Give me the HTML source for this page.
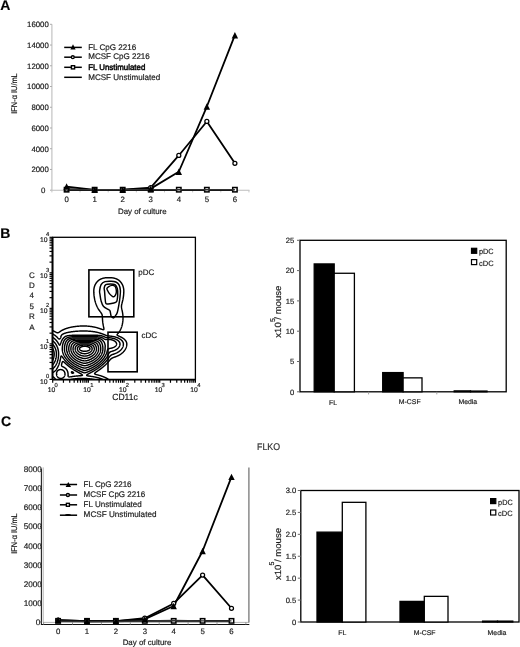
<!DOCTYPE html>
<html><head><meta charset="utf-8"><style>
html,body{margin:0;padding:0;background:#fff;width:520px;height:647px;overflow:hidden}
svg{display:block;filter:grayscale(1)}
text{font-family:"Liberation Sans", sans-serif;stroke:#1a1a1a;stroke-width:0.18px;text-rendering:geometricPrecision}
</style></head><body>
<svg width="520" height="647" viewBox="0 0 520 647">
<text x="0.20" y="10.20" font-size="14" text-anchor="start" font-weight="bold" fill="#000" >A</text>
<line x1="51.90" y1="24.30" x2="51.90" y2="190.20" stroke="#bdbdbd" stroke-width="1.1"/>
<line x1="51.90" y1="190.20" x2="249.50" y2="190.20" stroke="#bdbdbd" stroke-width="1.1"/>
<line x1="50.00" y1="190.20" x2="51.90" y2="190.20" stroke="#aaa" stroke-width="1.0"/>
<text x="45.30" y="193.10" font-size="7.9" text-anchor="end" font-weight="normal" fill="#1a1a1a" >0</text>
<line x1="50.00" y1="169.46" x2="51.90" y2="169.46" stroke="#aaa" stroke-width="1.0"/>
<text x="48.80" y="172.36" font-size="7.8" text-anchor="end" font-weight="normal" fill="#1a1a1a" >2000</text>
<line x1="50.00" y1="148.72" x2="51.90" y2="148.72" stroke="#aaa" stroke-width="1.0"/>
<text x="48.80" y="151.62" font-size="7.8" text-anchor="end" font-weight="normal" fill="#1a1a1a" >4000</text>
<line x1="50.00" y1="127.99" x2="51.90" y2="127.99" stroke="#aaa" stroke-width="1.0"/>
<text x="48.80" y="130.89" font-size="7.8" text-anchor="end" font-weight="normal" fill="#1a1a1a" >6000</text>
<line x1="50.00" y1="107.25" x2="51.90" y2="107.25" stroke="#aaa" stroke-width="1.0"/>
<text x="48.80" y="110.15" font-size="7.8" text-anchor="end" font-weight="normal" fill="#1a1a1a" >8000</text>
<line x1="50.00" y1="86.51" x2="51.90" y2="86.51" stroke="#aaa" stroke-width="1.0"/>
<text x="48.80" y="89.41" font-size="7.8" text-anchor="end" font-weight="normal" fill="#1a1a1a" >10000</text>
<line x1="50.00" y1="65.78" x2="51.90" y2="65.78" stroke="#aaa" stroke-width="1.0"/>
<text x="48.80" y="68.68" font-size="7.8" text-anchor="end" font-weight="normal" fill="#1a1a1a" >12000</text>
<line x1="50.00" y1="45.04" x2="51.90" y2="45.04" stroke="#aaa" stroke-width="1.0"/>
<text x="48.80" y="47.94" font-size="7.8" text-anchor="end" font-weight="normal" fill="#1a1a1a" >14000</text>
<line x1="50.00" y1="24.30" x2="51.90" y2="24.30" stroke="#aaa" stroke-width="1.0"/>
<text x="48.80" y="27.20" font-size="7.8" text-anchor="end" font-weight="normal" fill="#1a1a1a" >16000</text>
<line x1="51.90" y1="190.20" x2="51.90" y2="192.40" stroke="#c4c4c4" stroke-width="1.0"/>
<line x1="80.05" y1="190.20" x2="80.05" y2="192.40" stroke="#c4c4c4" stroke-width="1.0"/>
<line x1="108.20" y1="190.20" x2="108.20" y2="192.40" stroke="#c4c4c4" stroke-width="1.0"/>
<line x1="136.35" y1="190.20" x2="136.35" y2="192.40" stroke="#c4c4c4" stroke-width="1.0"/>
<line x1="164.50" y1="190.20" x2="164.50" y2="192.40" stroke="#c4c4c4" stroke-width="1.0"/>
<line x1="192.65" y1="190.20" x2="192.65" y2="192.40" stroke="#c4c4c4" stroke-width="1.0"/>
<line x1="220.80" y1="190.20" x2="220.80" y2="192.40" stroke="#c4c4c4" stroke-width="1.0"/>
<line x1="248.95" y1="190.20" x2="248.95" y2="192.40" stroke="#c4c4c4" stroke-width="1.0"/>
<text x="66.60" y="202.20" font-size="7.8" text-anchor="middle" font-weight="normal" fill="#1a1a1a" >0</text>
<text x="94.65" y="202.20" font-size="7.8" text-anchor="middle" font-weight="normal" fill="#1a1a1a" >1</text>
<text x="122.70" y="202.20" font-size="7.8" text-anchor="middle" font-weight="normal" fill="#1a1a1a" >2</text>
<text x="150.75" y="202.20" font-size="7.8" text-anchor="middle" font-weight="normal" fill="#1a1a1a" >3</text>
<text x="178.80" y="202.20" font-size="7.8" text-anchor="middle" font-weight="normal" fill="#1a1a1a" >4</text>
<text x="206.85" y="202.20" font-size="7.8" text-anchor="middle" font-weight="normal" fill="#1a1a1a" >5</text>
<text x="234.90" y="202.20" font-size="7.8" text-anchor="middle" font-weight="normal" fill="#1a1a1a" >6</text>
<text x="142.30" y="214.00" font-size="7.9" text-anchor="middle" font-weight="normal" fill="#1a1a1a" >Day of culture</text>
<text x="0.00" y="0.00" font-size="8.2" text-anchor="middle" font-weight="normal" fill="#1a1a1a" textLength="40.5" lengthAdjust="spacingAndGlyphs" transform="translate(16.5,93.5) rotate(-90)">IFN-&#945; IU/mL</text>
<polyline points="66.60,190.20 94.65,190.20 122.70,190.20 150.75,190.20 178.80,190.20 206.85,190.20 234.90,190.20" fill="none" stroke="#000" stroke-width="1.7" stroke-linejoin="round"/>
<polyline points="66.60,189.16 94.65,189.99 122.70,189.68 150.75,187.61 178.80,155.46 206.85,121.46 234.90,163.34" fill="none" stroke="#000" stroke-width="1.8" stroke-linejoin="round"/>
<polyline points="66.60,186.57 94.65,189.89 122.70,189.89 150.75,188.64 178.80,171.74 206.85,106.52 234.90,35.19" fill="none" stroke="#000" stroke-width="1.8" stroke-linejoin="round"/>
<rect x="64.40" y="187.50" width="4.4" height="4.4" fill="#fff" stroke="#000" stroke-width="1.5"/>
<rect x="92.45" y="187.50" width="4.4" height="4.4" fill="#fff" stroke="#000" stroke-width="1.5"/>
<rect x="120.50" y="187.50" width="4.4" height="4.4" fill="#fff" stroke="#000" stroke-width="1.5"/>
<rect x="148.55" y="187.50" width="4.4" height="4.4" fill="#fff" stroke="#000" stroke-width="1.5"/>
<rect x="176.60" y="187.50" width="4.4" height="4.4" fill="#fff" stroke="#000" stroke-width="1.5"/>
<rect x="204.65" y="187.50" width="4.4" height="4.4" fill="#fff" stroke="#000" stroke-width="1.5"/>
<rect x="232.70" y="187.50" width="4.4" height="4.4" fill="#fff" stroke="#000" stroke-width="1.5"/>
<polyline points="66.60,189.80 94.65,189.80 122.70,189.80 150.75,189.80 178.80,189.80 206.85,189.80 234.90,189.80" fill="none" stroke="#333" stroke-width="1.4" stroke-linejoin="round"/>
<circle cx="66.60" cy="189.16" r="2.0" fill="#fff" stroke="#000" stroke-width="1.25"/>
<circle cx="94.65" cy="189.99" r="2.0" fill="#fff" stroke="#000" stroke-width="1.25"/>
<circle cx="122.70" cy="189.68" r="2.0" fill="#fff" stroke="#000" stroke-width="1.25"/>
<circle cx="150.75" cy="187.61" r="2.0" fill="#fff" stroke="#000" stroke-width="1.25"/>
<circle cx="178.80" cy="155.46" r="2.0" fill="#fff" stroke="#000" stroke-width="1.25"/>
<circle cx="206.85" cy="121.46" r="2.0" fill="#fff" stroke="#000" stroke-width="1.25"/>
<circle cx="234.90" cy="163.34" r="2.0" fill="#fff" stroke="#000" stroke-width="1.25"/>
<polygon points="63.40,189.77 69.80,189.77 66.60,183.37" fill="#000"/>
<polygon points="91.45,193.09 97.85,193.09 94.65,186.69" fill="#000"/>
<polygon points="119.50,193.09 125.90,193.09 122.70,186.69" fill="#000"/>
<polygon points="147.55,191.84 153.95,191.84 150.75,185.44" fill="#000"/>
<polygon points="175.60,174.94 182.00,174.94 178.80,168.54" fill="#000"/>
<polygon points="203.65,109.72 210.05,109.72 206.85,103.32" fill="#000"/>
<polygon points="231.70,38.39 238.10,38.39 234.90,31.99" fill="#000"/>
<line x1="64.20" y1="47.40" x2="81.80" y2="47.40" stroke="#000" stroke-width="1.5"/>
<polygon points="70.40,49.50 75.60,49.50 73.00,44.30" fill="#000"/>
<text x="88.20" y="49.60" font-size="8.2" text-anchor="start" font-weight="normal" fill="#1a1a1a" textLength="48.0" lengthAdjust="spacingAndGlyphs" >FL CpG 2216</text>
<line x1="64.20" y1="57.20" x2="81.80" y2="57.20" stroke="#000" stroke-width="1.5"/>
<circle cx="72.80" cy="57.20" r="1.45" fill="#fff" stroke="#000" stroke-width="1.35"/>
<text x="88.20" y="59.40" font-size="8.2" text-anchor="start" font-weight="normal" fill="#1a1a1a" textLength="61.6" lengthAdjust="spacingAndGlyphs" >MCSF CpG 2216</text>
<line x1="64.20" y1="67.30" x2="81.80" y2="67.30" stroke="#000" stroke-width="1.5"/>
<rect x="71.40" y="65.70" width="3.2" height="3.2" fill="#fff" stroke="#000" stroke-width="1.4"/>
<text x="88.20" y="69.50" font-size="8.2" text-anchor="start" font-weight="normal" fill="#000" textLength="57.1" lengthAdjust="spacingAndGlyphs" style="stroke:#000;stroke-width:0.45px" >FL Unstimulated</text>
<line x1="64.20" y1="77.30" x2="81.80" y2="77.30" stroke="#000" stroke-width="1.5"/>
<text x="88.20" y="79.50" font-size="8.2" text-anchor="start" font-weight="normal" fill="#1a1a1a" textLength="72.1" lengthAdjust="spacingAndGlyphs" >MCSF Unstimulated</text>
<text x="0.30" y="237.80" font-size="14" text-anchor="start" font-weight="bold" fill="#000" >B</text>
<clipPath id="fc"><rect x="52.7" y="237.3" width="142.70" height="142.10"/></clipPath><g clip-path="url(#fc)" fill="none" stroke="#000" stroke-width="1.45" stroke-linejoin="round"><path d="M86.22,351.20 L86.60,351.14 L87.00,351.06 L87.24,351.00 L87.60,350.90 L87.90,350.80 L88.20,350.68 L88.40,350.60 L88.78,350.40 L89.00,350.27 L89.20,350.13 L89.40,349.96 L89.60,349.76 L89.80,349.48 L89.93,349.20 L90.00,348.80 L89.93,348.40 L89.80,348.12 L89.60,347.84 L89.40,347.64 L89.20,347.47 L89.00,347.33 L88.79,347.20 L88.40,347.00 L88.20,346.91 L87.91,346.80 L87.60,346.69 L87.25,346.60 L87.00,346.54 L86.60,346.46 L86.22,346.40 L86.00,346.37 L85.60,346.33 L85.20,346.31 L84.80,346.30 L84.40,346.31 L84.00,346.32 L83.60,346.36 L83.28,346.40 L83.00,346.44 L82.60,346.51 L82.25,346.60 L82.00,346.66 L81.60,346.80 L81.40,346.87 L81.10,347.00 L80.80,347.15 L80.60,347.26 L80.40,347.40 L80.14,347.60 L79.94,347.80 L79.78,348.00 L79.60,348.32 L79.52,348.60 L79.52,349.00 L79.60,349.28 L79.78,349.60 L79.94,349.80 L80.15,350.00 L80.40,350.20 L80.60,350.33 L80.80,350.45 L81.11,350.60 L81.40,350.72 L81.60,350.80 L82.00,350.93 L82.26,351.00 L82.60,351.08 L83.00,351.16 L83.28,351.20 L83.60,351.24 L84.00,351.27 L84.40,351.29 L84.80,351.30 L85.20,351.29 L85.60,351.27 L86.00,351.23 L86.22,351.20 L86.22,351.20"/><path d="M86.13,353.60 L86.40,353.56 L86.80,353.48 L87.17,353.40 L87.40,353.34 L87.80,353.23 L88.00,353.16 L88.40,353.02 L88.60,352.94 L88.91,352.80 L89.20,352.66 L89.40,352.56 L89.68,352.40 L90.00,352.20 L90.20,352.06 L90.40,351.91 L90.60,351.75 L90.80,351.57 L91.00,351.37 L91.20,351.15 L91.40,350.90 L91.60,350.61 L91.73,350.40 L91.83,350.20 L91.99,349.80 L92.05,349.60 L92.12,349.20 L92.15,348.80 L92.12,348.40 L92.03,348.00 L91.95,347.80 L91.80,347.48 L91.63,347.20 L91.48,347.00 L91.30,346.80 L91.09,346.60 L90.85,346.40 L90.60,346.22 L90.40,346.10 L90.20,345.98 L89.82,345.80 L89.60,345.71 L89.30,345.60 L89.00,345.51 L88.60,345.40 L88.40,345.36 L88.00,345.28 L87.60,345.23 L87.38,345.20 L87.00,345.16 L86.60,345.14 L86.20,345.12 L85.80,345.11 L85.40,345.10 L85.00,345.10 L84.60,345.10 L84.20,345.10 L83.80,345.11 L83.40,345.12 L83.00,345.13 L82.60,345.16 L82.20,345.19 L82.00,345.21 L81.60,345.27 L81.20,345.34 L80.91,345.40 L80.60,345.48 L80.20,345.60 L80.00,345.67 L79.68,345.80 L79.40,345.93 L79.20,346.04 L78.93,346.20 L78.65,346.40 L78.41,346.60 L78.20,346.80 L78.02,347.00 L77.87,347.20 L77.74,347.40 L77.60,347.68 L77.47,348.00 L77.40,348.30 L77.36,348.60 L77.36,349.00 L77.40,349.35 L77.45,349.60 L77.59,350.00 L77.67,350.20 L77.80,350.45 L78.00,350.77 L78.17,351.00 L78.34,351.20 L78.53,351.40 L78.73,351.60 L78.96,351.80 L79.20,351.99 L79.40,352.13 L79.60,352.26 L79.82,352.40 L80.18,352.60 L80.40,352.71 L80.60,352.81 L81.00,352.98 L81.20,353.06 L81.60,353.19 L81.80,353.26 L82.20,353.37 L82.40,353.42 L82.80,353.50 L83.20,353.57 L83.40,353.60 L83.80,353.65 L84.20,353.68 L84.60,353.70 L85.00,353.70 L85.40,353.68 L85.80,353.64 L86.13,353.60 L86.13,353.60"/><path d="M86.07,356.00 L86.40,355.95 L86.80,355.87 L87.14,355.80 L87.40,355.74 L87.80,355.63 L88.00,355.57 L88.40,355.44 L88.60,355.36 L89.00,355.21 L89.20,355.13 L89.48,355.00 L89.80,354.85 L90.00,354.75 L90.27,354.60 L90.60,354.41 L90.80,354.28 L91.00,354.15 L91.22,354.00 L91.49,353.80 L91.75,353.60 L91.98,353.40 L92.20,353.20 L92.40,353.01 L92.60,352.80 L92.78,352.60 L92.94,352.40 L93.10,352.20 L93.24,352.00 L93.40,351.76 L93.60,351.43 L93.72,351.20 L93.81,351.00 L93.98,350.60 L94.05,350.40 L94.16,350.00 L94.20,349.80 L94.26,349.40 L94.30,349.00 L94.30,348.60 L94.26,348.20 L94.20,347.85 L94.14,347.60 L94.01,347.20 L93.93,347.00 L93.80,346.73 L93.61,346.40 L93.48,346.20 L93.32,346.00 L93.15,345.80 L92.96,345.60 L92.73,345.40 L92.48,345.20 L92.20,345.01 L92.00,344.89 L91.80,344.79 L91.40,344.60 L91.20,344.52 L90.85,344.40 L90.60,344.33 L90.20,344.22 L90.00,344.18 L89.60,344.11 L89.20,344.05 L88.80,344.01 L88.60,343.99 L88.20,343.96 L87.80,343.94 L87.40,343.92 L87.00,343.91 L86.60,343.91 L86.20,343.90 L85.80,343.90 L85.40,343.90 L85.00,343.90 L84.60,343.90 L84.20,343.90 L83.80,343.90 L83.40,343.90 L83.00,343.90 L82.60,343.91 L82.20,343.92 L81.80,343.93 L81.40,343.95 L81.00,343.98 L80.77,344.00 L80.40,344.04 L80.00,344.09 L79.60,344.16 L79.40,344.20 L79.00,344.30 L78.65,344.40 L78.40,344.48 L78.10,344.60 L77.80,344.74 L77.60,344.84 L77.32,345.00 L77.02,345.20 L76.80,345.37 L76.60,345.55 L76.40,345.75 L76.20,345.97 L76.02,346.20 L75.89,346.40 L75.77,346.60 L75.60,346.93 L75.49,347.20 L75.40,347.46 L75.31,347.80 L75.24,348.20 L75.20,348.60 L75.20,349.00 L75.24,349.40 L75.30,349.80 L75.39,350.20 L75.45,350.40 L75.60,350.80 L75.69,351.00 L75.80,351.24 L76.00,351.60 L76.12,351.80 L76.26,352.00 L76.40,352.20 L76.60,352.45 L76.80,352.69 L77.00,352.90 L77.20,353.11 L77.40,353.29 L77.60,353.47 L77.80,353.64 L78.01,353.80 L78.28,354.00 L78.57,354.20 L78.80,354.35 L79.00,354.47 L79.23,354.60 L79.60,354.80 L79.80,354.90 L80.02,355.00 L80.40,355.17 L80.60,355.25 L81.00,355.40 L81.20,355.47 L81.60,355.60 L81.80,355.66 L82.20,355.76 L82.40,355.81 L82.80,355.89 L83.20,355.97 L83.43,356.00 L83.80,356.05 L84.20,356.08 L84.60,356.10 L85.00,356.10 L85.40,356.07 L85.80,356.03 L86.07,356.00 L86.07,356.00"/><path d="M85.99,358.40 L86.20,358.37 L86.60,358.30 L87.00,358.22 L87.20,358.17 L87.60,358.07 L87.85,358.00 L88.20,357.89 L88.49,357.80 L88.80,357.69 L89.05,357.60 L89.40,357.46 L89.60,357.38 L90.00,357.20 L90.20,357.11 L90.42,357.00 L90.80,356.80 L91.00,356.69 L91.20,356.58 L91.50,356.40 L91.80,356.21 L92.00,356.08 L92.20,355.94 L92.40,355.80 L92.66,355.60 L92.92,355.40 L93.16,355.20 L93.39,355.00 L93.60,354.80 L93.80,354.61 L94.00,354.41 L94.19,354.20 L94.37,354.00 L94.54,353.80 L94.70,353.60 L94.85,353.40 L95.00,353.19 L95.20,352.89 L95.38,352.60 L95.49,352.40 L95.60,352.19 L95.79,351.80 L95.88,351.60 L96.00,351.28 L96.10,351.00 L96.20,350.66 L96.26,350.40 L96.35,350.00 L96.40,349.63 L96.42,349.40 L96.45,349.00 L96.45,348.60 L96.42,348.20 L96.40,347.96 L96.35,347.60 L96.27,347.20 L96.20,346.95 L96.09,346.60 L96.00,346.35 L95.85,346.00 L95.75,345.80 L95.60,345.53 L95.40,345.22 L95.24,345.00 L95.08,344.80 L94.89,344.60 L94.69,344.40 L94.46,344.20 L94.20,344.01 L94.00,343.87 L93.80,343.75 L93.52,343.60 L93.20,343.45 L93.00,343.37 L92.60,343.23 L92.40,343.17 L92.00,343.07 L91.70,343.00 L91.40,342.95 L91.00,342.88 L90.60,342.84 L90.21,342.80 L90.00,342.78 L89.60,342.76 L89.20,342.74 L88.80,342.73 L88.40,342.72 L88.00,342.71 L87.60,342.71 L87.20,342.70 L86.80,342.70 L86.40,342.70 L86.00,342.70 L85.60,342.70 L85.20,342.70 L84.80,342.70 L84.40,342.70 L84.00,342.70 L83.60,342.70 L83.20,342.70 L82.80,342.70 L82.40,342.70 L82.00,342.70 L81.60,342.71 L81.20,342.71 L80.80,342.72 L80.40,342.74 L80.00,342.75 L79.60,342.78 L79.29,342.80 L79.00,342.83 L78.60,342.87 L78.20,342.93 L77.80,343.00 L77.60,343.04 L77.20,343.14 L76.99,343.20 L76.60,343.33 L76.40,343.41 L76.00,343.59 L75.80,343.70 L75.60,343.81 L75.31,344.00 L75.04,344.20 L74.81,344.40 L74.61,344.60 L74.42,344.80 L74.26,345.00 L74.11,345.20 L73.98,345.40 L73.80,345.70 L73.65,346.00 L73.56,346.20 L73.41,346.60 L73.34,346.80 L73.23,347.20 L73.19,347.40 L73.12,347.80 L73.08,348.20 L73.05,348.60 L73.05,349.00 L73.08,349.40 L73.12,349.80 L73.19,350.20 L73.24,350.40 L73.34,350.80 L73.40,351.00 L73.54,351.40 L73.62,351.60 L73.80,351.99 L73.90,352.20 L74.01,352.40 L74.20,352.73 L74.37,353.00 L74.51,353.20 L74.65,353.40 L74.80,353.60 L75.00,353.84 L75.20,354.08 L75.40,354.30 L75.60,354.51 L75.80,354.71 L76.00,354.90 L76.20,355.08 L76.40,355.25 L76.60,355.41 L76.84,355.60 L77.10,355.80 L77.38,356.00 L77.60,356.15 L77.80,356.27 L78.00,356.40 L78.34,356.60 L78.60,356.75 L78.80,356.85 L79.08,357.00 L79.40,357.15 L79.60,357.25 L79.95,357.40 L80.20,357.50 L80.45,357.60 L80.80,357.73 L81.01,357.80 L81.40,357.93 L81.65,358.00 L82.00,358.10 L82.40,358.19 L82.60,358.24 L83.00,358.32 L83.40,358.38 L83.60,358.41 L84.00,358.46 L84.40,358.49 L84.80,358.50 L85.20,358.48 L85.60,358.45 L85.99,358.40 L85.99,358.40"/><path d="M85.88,360.80 L86.20,360.75 L86.60,360.68 L86.95,360.60 L87.20,360.54 L87.60,360.44 L87.80,360.38 L88.20,360.26 L88.40,360.20 L88.80,360.07 L89.00,359.99 L89.40,359.84 L89.60,359.76 L89.99,359.60 L90.20,359.51 L90.44,359.40 L90.80,359.23 L91.00,359.13 L91.25,359.00 L91.60,358.81 L91.80,358.70 L92.00,358.59 L92.31,358.40 L92.60,358.22 L92.80,358.09 L93.00,357.95 L93.22,357.80 L93.50,357.60 L93.77,357.40 L94.00,357.22 L94.20,357.06 L94.40,356.89 L94.60,356.72 L94.80,356.54 L95.00,356.35 L95.20,356.16 L95.40,355.96 L95.60,355.75 L95.80,355.53 L96.00,355.30 L96.20,355.06 L96.40,354.81 L96.56,354.60 L96.71,354.40 L96.85,354.20 L97.00,353.97 L97.20,353.64 L97.34,353.40 L97.45,353.20 L97.60,352.91 L97.75,352.60 L97.84,352.40 L98.00,352.00 L98.07,351.80 L98.20,351.42 L98.27,351.20 L98.37,350.80 L98.41,350.60 L98.49,350.20 L98.54,349.80 L98.58,349.40 L98.60,349.00 L98.60,348.80 L98.60,348.60 L98.58,348.20 L98.55,347.80 L98.50,347.40 L98.44,347.00 L98.40,346.80 L98.31,346.40 L98.20,346.02 L98.13,345.80 L98.00,345.45 L97.89,345.20 L97.80,344.99 L97.60,344.61 L97.48,344.40 L97.35,344.20 L97.20,343.99 L97.00,343.74 L96.80,343.52 L96.60,343.32 L96.40,343.13 L96.20,342.97 L95.96,342.80 L95.65,342.60 L95.40,342.46 L95.20,342.36 L94.82,342.20 L94.60,342.12 L94.23,342.00 L94.00,341.94 L93.60,341.84 L93.39,341.80 L93.00,341.73 L92.60,341.68 L92.20,341.64 L91.80,341.60 L91.60,341.59 L91.20,341.56 L90.80,341.54 L90.40,341.53 L90.00,341.52 L89.60,341.51 L89.20,341.51 L88.80,341.51 L88.40,341.50 L88.00,341.50 L87.60,341.50 L87.20,341.50 L86.80,341.50 L86.40,341.50 L86.00,341.50 L85.60,341.50 L85.20,341.50 L84.80,341.50 L84.40,341.50 L84.00,341.50 L83.60,341.50 L83.20,341.50 L82.80,341.50 L82.40,341.50 L82.00,341.50 L81.60,341.50 L81.20,341.50 L80.80,341.50 L80.40,341.51 L80.00,341.51 L79.60,341.52 L79.20,341.53 L78.80,341.54 L78.40,341.56 L78.00,341.58 L77.71,341.60 L77.40,341.63 L77.00,341.67 L76.60,341.72 L76.20,341.78 L76.00,341.82 L75.60,341.91 L75.27,342.00 L75.00,342.09 L74.68,342.20 L74.40,342.32 L74.20,342.41 L73.85,342.60 L73.60,342.76 L73.40,342.90 L73.20,343.05 L73.00,343.22 L72.80,343.41 L72.60,343.62 L72.40,343.86 L72.20,344.13 L72.02,344.40 L71.91,344.60 L71.80,344.80 L71.61,345.20 L71.52,345.40 L71.40,345.72 L71.31,346.00 L71.20,346.38 L71.15,346.60 L71.06,347.00 L71.00,347.38 L70.97,347.60 L70.93,348.00 L70.91,348.40 L70.90,348.80 L70.91,349.20 L70.94,349.60 L70.98,350.00 L71.01,350.20 L71.09,350.60 L71.18,351.00 L71.23,351.20 L71.36,351.60 L71.43,351.80 L71.58,352.20 L71.66,352.40 L71.80,352.71 L71.94,353.00 L72.05,353.20 L72.20,353.47 L72.39,353.80 L72.52,354.00 L72.65,354.20 L72.80,354.41 L73.00,354.68 L73.20,354.94 L73.40,355.19 L73.58,355.40 L73.76,355.60 L73.95,355.80 L74.14,356.00 L74.34,356.20 L74.55,356.40 L74.77,356.60 L74.99,356.80 L75.20,356.97 L75.40,357.14 L75.60,357.30 L75.80,357.45 L76.00,357.60 L76.28,357.80 L76.57,358.00 L76.80,358.15 L77.00,358.28 L77.20,358.41 L77.52,358.60 L77.80,358.76 L78.00,358.87 L78.25,359.00 L78.60,359.18 L78.80,359.28 L79.06,359.40 L79.40,359.55 L79.60,359.64 L79.99,359.80 L80.20,359.88 L80.52,360.00 L80.80,360.10 L81.10,360.20 L81.40,360.29 L81.76,360.40 L82.00,360.47 L82.40,360.57 L82.60,360.61 L83.00,360.69 L83.40,360.77 L83.62,360.80 L84.00,360.85 L84.40,360.89 L84.80,360.90 L85.20,360.88 L85.60,360.84 L85.88,360.80 L85.88,360.80"/><path d="M85.75,363.20 L86.00,363.16 L86.40,363.08 L86.79,363.00 L87.00,362.95 L87.40,362.85 L87.60,362.79 L88.00,362.67 L88.24,362.60 L88.60,362.48 L88.83,362.40 L89.20,362.27 L89.40,362.19 L89.80,362.03 L90.00,361.95 L90.34,361.80 L90.60,361.69 L90.80,361.59 L91.20,361.40 L91.40,361.30 L91.60,361.20 L91.98,361.00 L92.20,360.88 L92.40,360.77 L92.69,360.60 L93.00,360.42 L93.20,360.29 L93.40,360.17 L93.66,360.00 L93.96,359.80 L94.20,359.63 L94.40,359.49 L94.60,359.34 L94.80,359.19 L95.05,359.00 L95.30,358.80 L95.54,358.60 L95.78,358.40 L96.00,358.20 L96.20,358.02 L96.40,357.84 L96.60,357.65 L96.80,357.45 L97.00,357.24 L97.20,357.03 L97.40,356.81 L97.59,356.60 L97.76,356.40 L97.92,356.20 L98.08,356.00 L98.23,355.80 L98.40,355.57 L98.60,355.29 L98.80,355.00 L98.92,354.80 L99.05,354.60 L99.20,354.34 L99.39,354.00 L99.50,353.80 L99.60,353.59 L99.78,353.20 L99.87,353.00 L100.00,352.68 L100.11,352.40 L100.20,352.13 L100.30,351.80 L100.40,351.46 L100.47,351.20 L100.55,350.80 L100.60,350.54 L100.65,350.20 L100.70,349.80 L100.73,349.40 L100.75,349.00 L100.75,348.60 L100.74,348.20 L100.71,347.80 L100.68,347.40 L100.63,347.00 L100.60,346.78 L100.54,346.40 L100.45,346.00 L100.40,345.77 L100.30,345.40 L100.20,345.06 L100.11,344.80 L100.00,344.50 L99.88,344.20 L99.78,344.00 L99.60,343.64 L99.46,343.40 L99.34,343.20 L99.20,342.99 L99.00,342.73 L98.80,342.49 L98.60,342.28 L98.40,342.08 L98.20,341.91 L98.00,341.75 L97.78,341.60 L97.46,341.40 L97.20,341.26 L97.00,341.16 L96.61,341.00 L96.40,340.92 L96.00,340.80 L95.80,340.75 L95.40,340.65 L95.13,340.60 L94.80,340.55 L94.40,340.49 L94.00,340.45 L93.60,340.41 L93.40,340.40 L93.00,340.37 L92.60,340.35 L92.20,340.34 L91.80,340.33 L91.40,340.32 L91.00,340.31 L90.60,340.31 L90.20,340.31 L89.80,340.30 L89.40,340.30 L89.00,340.30 L88.60,340.30 L88.20,340.30 L87.80,340.30 L87.40,340.30 L87.00,340.30 L86.60,340.30 L86.20,340.30 L85.80,340.30 L85.40,340.30 L85.00,340.30 L84.60,340.30 L84.20,340.30 L83.80,340.30 L83.40,340.30 L83.00,340.30 L82.60,340.30 L82.20,340.30 L81.80,340.30 L81.40,340.30 L81.00,340.30 L80.60,340.30 L80.20,340.30 L79.80,340.30 L79.40,340.30 L79.00,340.31 L78.60,340.31 L78.20,340.32 L77.80,340.33 L77.40,340.34 L77.00,340.35 L76.60,340.37 L76.20,340.39 L76.00,340.40 L75.60,340.44 L75.20,340.48 L74.80,340.53 L74.40,340.59 L74.20,340.63 L73.80,340.72 L73.50,340.80 L73.20,340.89 L72.89,341.00 L72.60,341.12 L72.40,341.21 L72.04,341.40 L71.80,341.55 L71.60,341.68 L71.40,341.83 L71.19,342.00 L70.98,342.20 L70.78,342.40 L70.60,342.60 L70.40,342.86 L70.20,343.14 L70.04,343.40 L69.92,343.60 L69.80,343.83 L69.62,344.20 L69.54,344.40 L69.40,344.76 L69.32,345.00 L69.20,345.39 L69.14,345.60 L69.05,346.00 L69.00,346.21 L68.93,346.60 L68.87,347.00 L68.82,347.40 L68.80,347.63 L68.77,348.00 L68.76,348.40 L68.75,348.80 L68.76,349.20 L68.78,349.60 L68.80,349.81 L68.85,350.20 L68.91,350.60 L68.99,351.00 L69.03,351.20 L69.14,351.60 L69.20,351.82 L69.32,352.20 L69.40,352.42 L69.55,352.80 L69.63,353.00 L69.80,353.38 L69.90,353.60 L70.00,353.80 L70.20,354.16 L70.33,354.40 L70.45,354.60 L70.60,354.84 L70.80,355.14 L70.98,355.40 L71.12,355.60 L71.27,355.80 L71.42,356.00 L71.60,356.22 L71.80,356.47 L72.00,356.70 L72.20,356.92 L72.40,357.14 L72.60,357.35 L72.80,357.55 L73.00,357.74 L73.20,357.93 L73.40,358.11 L73.60,358.29 L73.80,358.47 L74.00,358.64 L74.20,358.80 L74.45,359.00 L74.71,359.20 L74.98,359.40 L75.20,359.56 L75.40,359.70 L75.60,359.84 L75.84,360.00 L76.15,360.20 L76.40,360.36 L76.60,360.48 L76.81,360.60 L77.16,360.80 L77.40,360.94 L77.60,361.04 L77.90,361.20 L78.20,361.35 L78.40,361.45 L78.71,361.60 L79.00,361.73 L79.20,361.82 L79.60,361.99 L79.80,362.07 L80.13,362.20 L80.40,362.30 L80.67,362.40 L81.00,362.51 L81.27,362.60 L81.60,362.70 L81.93,362.80 L82.20,362.87 L82.60,362.97 L82.80,363.02 L83.20,363.10 L83.60,363.18 L83.80,363.21 L84.20,363.26 L84.60,363.29 L85.00,363.29 L85.40,363.25 L85.75,363.20 L85.75,363.20"/><path d="M49.02,359.80 L49.40,359.62 L49.60,359.50 L49.80,359.36 L50.00,359.20 L50.21,359.00 L50.40,358.80 L50.60,358.56 L50.80,358.28 L50.98,358.00 L51.09,357.80 L51.20,357.60 L51.38,357.20 L51.46,357.00 L51.60,356.61 L51.67,356.40 L51.77,356.00 L51.82,355.80 L51.89,355.40 L51.94,355.00 L51.98,354.60 L52.00,354.20 L52.00,353.80 L51.97,353.40 L51.92,353.00 L51.84,352.60 L51.79,352.40 L51.67,352.00 L51.59,351.80 L51.42,351.40 L51.31,351.20 L51.20,351.00 L51.00,350.69 L50.80,350.43 L50.60,350.20 L50.40,350.00 L50.20,349.82 L50.00,349.67 L49.80,349.53 L49.57,349.40 L49.20,349.23 L49.00,349.16 L48.60,349.06 L48.20,349.01 L47.80,349.01 L47.40,349.10 L47.16,349.20 L46.83,349.40 L46.60,349.58 L46.40,349.77 L46.20,350.00 L46.05,350.20 L45.92,350.40 L45.80,350.60 L45.60,351.00 L45.52,351.20 L45.40,351.51 L45.31,351.80 L45.20,352.20 L45.16,352.40 L45.09,352.80 L45.04,353.20 L45.01,353.60 L45.00,354.00 L45.01,354.40 L45.03,354.80 L45.06,355.20 L45.11,355.60 L45.17,356.00 L45.21,356.20 L45.30,356.60 L45.40,356.99 L45.46,357.20 L45.60,357.60 L45.68,357.80 L45.80,358.08 L45.96,358.40 L46.08,358.60 L46.20,358.80 L46.40,359.08 L46.60,359.31 L46.80,359.50 L47.00,359.66 L47.24,359.80 L47.60,359.95 L48.00,360.00 L48.40,359.97 L48.80,359.88 L49.02,359.80 L49.02,359.80"/><path d="M85.62,365.60 L86.00,365.53 L86.40,365.44 L86.60,365.40 L87.00,365.29 L87.34,365.20 L87.60,365.12 L88.00,365.00 L88.20,364.93 L88.59,364.80 L88.80,364.73 L89.14,364.60 L89.40,364.50 L89.65,364.40 L90.00,364.26 L90.20,364.17 L90.59,364.00 L90.80,363.91 L91.03,363.80 L91.40,363.62 L91.60,363.52 L91.84,363.40 L92.20,363.21 L92.40,363.11 L92.60,363.00 L92.95,362.80 L93.20,362.66 L93.40,362.54 L93.63,362.40 L93.96,362.20 L94.20,362.05 L94.40,361.92 L94.60,361.78 L94.87,361.60 L95.16,361.40 L95.40,361.23 L95.60,361.08 L95.80,360.93 L96.00,360.78 L96.23,360.60 L96.48,360.40 L96.73,360.20 L96.96,360.00 L97.19,359.80 L97.40,359.62 L97.60,359.43 L97.80,359.25 L98.00,359.06 L98.20,358.86 L98.40,358.66 L98.60,358.45 L98.80,358.24 L99.00,358.02 L99.19,357.80 L99.36,357.60 L99.53,357.40 L99.69,357.20 L99.85,357.00 L100.00,356.80 L100.20,356.54 L100.40,356.25 L100.57,356.00 L100.70,355.80 L100.83,355.60 L101.00,355.32 L101.19,355.00 L101.30,354.80 L101.41,354.60 L101.60,354.22 L101.70,354.00 L101.80,353.79 L101.97,353.40 L102.05,353.20 L102.20,352.80 L102.27,352.60 L102.39,352.20 L102.45,352.00 L102.56,351.60 L102.60,351.40 L102.69,351.00 L102.76,350.60 L102.80,350.31 L102.84,350.00 L102.87,349.60 L102.89,349.20 L102.90,348.80 L102.90,348.40 L102.88,348.00 L102.86,347.60 L102.83,347.20 L102.80,346.88 L102.77,346.60 L102.71,346.20 L102.65,345.80 L102.60,345.54 L102.53,345.20 L102.43,344.80 L102.38,344.60 L102.26,344.20 L102.19,344.00 L102.05,343.60 L101.97,343.40 L101.80,343.02 L101.69,342.80 L101.59,342.60 L101.40,342.27 L101.23,342.00 L101.09,341.80 L100.94,341.60 L100.77,341.40 L100.59,341.20 L100.39,341.00 L100.17,340.80 L99.92,340.60 L99.64,340.40 L99.40,340.26 L99.20,340.14 L98.92,340.00 L98.60,339.87 L98.40,339.79 L98.00,339.66 L97.80,339.59 L97.40,339.50 L97.00,339.42 L96.80,339.38 L96.40,339.32 L96.00,339.27 L95.60,339.23 L95.20,339.20 L95.00,339.19 L94.60,339.17 L94.20,339.15 L93.80,339.14 L93.40,339.13 L93.00,339.12 L92.60,339.11 L92.20,339.11 L91.80,339.11 L91.40,339.10 L91.00,339.10 L90.60,339.10 L90.20,339.10 L89.80,339.10 L89.40,339.10 L89.00,339.10 L88.60,339.10 L88.20,339.10 L87.80,339.10 L87.40,339.10 L87.00,339.10 L86.60,339.10 L86.20,339.10 L85.80,339.10 L85.40,339.10 L85.00,339.10 L84.60,339.10 L84.20,339.10 L83.80,339.10 L83.40,339.10 L83.00,339.10 L82.60,339.10 L82.20,339.10 L81.80,339.10 L81.40,339.10 L81.00,339.10 L80.60,339.10 L80.20,339.10 L79.80,339.10 L79.40,339.10 L79.00,339.10 L78.60,339.10 L78.20,339.10 L77.80,339.11 L77.40,339.11 L77.00,339.11 L76.60,339.12 L76.20,339.13 L75.80,339.14 L75.40,339.15 L75.00,339.16 L74.60,339.18 L74.34,339.20 L74.00,339.23 L73.60,339.26 L73.20,339.31 L72.80,339.37 L72.58,339.40 L72.20,339.48 L71.80,339.57 L71.60,339.62 L71.20,339.75 L71.00,339.82 L70.60,339.99 L70.40,340.09 L70.19,340.20 L69.86,340.40 L69.60,340.58 L69.40,340.74 L69.20,340.92 L69.00,341.11 L68.80,341.32 L68.60,341.56 L68.41,341.80 L68.27,342.00 L68.15,342.20 L68.00,342.44 L67.81,342.80 L67.71,343.00 L67.60,343.25 L67.46,343.60 L67.38,343.80 L67.25,344.20 L67.19,344.40 L67.08,344.80 L67.00,345.12 L66.94,345.40 L66.86,345.80 L66.80,346.15 L66.76,346.40 L66.71,346.80 L66.67,347.20 L66.64,347.60 L66.62,348.00 L66.60,348.40 L66.60,348.80 L66.60,348.80 L66.61,349.20 L66.63,349.60 L66.66,350.00 L66.71,350.40 L66.77,350.80 L66.81,351.00 L66.90,351.40 L66.99,351.80 L67.05,352.00 L67.17,352.40 L67.23,352.60 L67.38,353.00 L67.45,353.20 L67.60,353.56 L67.70,353.80 L67.80,354.01 L67.99,354.40 L68.09,354.60 L68.20,354.80 L68.40,355.16 L68.54,355.40 L68.67,355.60 L68.80,355.81 L69.00,356.11 L69.20,356.40 L69.35,356.60 L69.50,356.80 L69.65,357.00 L69.81,357.20 L70.00,357.44 L70.20,357.68 L70.40,357.91 L70.60,358.13 L70.80,358.35 L71.00,358.56 L71.20,358.76 L71.40,358.96 L71.60,359.15 L71.80,359.34 L72.00,359.53 L72.20,359.71 L72.40,359.88 L72.60,360.05 L72.80,360.22 L73.02,360.40 L73.27,360.60 L73.53,360.80 L73.79,361.00 L74.00,361.16 L74.20,361.30 L74.40,361.44 L74.63,361.60 L74.92,361.80 L75.20,361.98 L75.40,362.11 L75.60,362.24 L75.87,362.40 L76.20,362.60 L76.40,362.72 L76.60,362.83 L76.90,363.00 L77.20,363.16 L77.40,363.27 L77.66,363.40 L78.00,363.57 L78.20,363.67 L78.47,363.80 L78.80,363.95 L79.00,364.04 L79.37,364.20 L79.60,364.30 L79.85,364.40 L80.20,364.54 L80.40,364.62 L80.80,364.76 L81.00,364.83 L81.40,364.97 L81.60,365.03 L82.00,365.15 L82.20,365.21 L82.60,365.32 L82.92,365.40 L83.20,365.47 L83.60,365.55 L83.89,365.60 L84.20,365.65 L84.60,365.69 L85.00,365.68 L85.40,365.63 L85.62,365.60 L85.62,365.60"/><path d="M48.89,363.40 L49.20,363.32 L49.54,363.20 L49.80,363.09 L50.00,362.99 L50.33,362.80 L50.60,362.62 L50.80,362.48 L51.00,362.31 L51.20,362.14 L51.40,361.94 L51.60,361.73 L51.80,361.51 L52.00,361.26 L52.19,361.00 L52.33,360.80 L52.46,360.60 L52.60,360.37 L52.80,360.01 L52.91,359.80 L53.01,359.60 L53.19,359.20 L53.27,359.00 L53.40,358.67 L53.49,358.40 L53.60,358.08 L53.68,357.80 L53.79,357.40 L53.84,357.20 L53.92,356.80 L54.00,356.40 L54.03,356.20 L54.09,355.80 L54.13,355.40 L54.17,355.00 L54.19,354.60 L54.20,354.20 L54.20,354.00 L54.20,353.80 L54.18,353.40 L54.15,353.00 L54.11,352.60 L54.05,352.20 L54.00,351.94 L53.93,351.60 L53.83,351.20 L53.77,351.00 L53.64,350.60 L53.57,350.40 L53.41,350.00 L53.32,349.80 L53.20,349.54 L53.03,349.20 L52.91,349.00 L52.79,348.80 L52.60,348.50 L52.40,348.22 L52.23,348.00 L52.06,347.80 L51.88,347.60 L51.68,347.40 L51.46,347.20 L51.23,347.00 L51.00,346.82 L50.80,346.68 L50.60,346.56 L50.33,346.40 L50.00,346.24 L49.80,346.15 L49.40,346.01 L49.20,345.96 L48.80,345.87 L48.40,345.82 L48.00,345.80 L47.60,345.83 L47.20,345.91 L46.91,346.00 L46.60,346.13 L46.40,346.23 L46.12,346.40 L45.85,346.60 L45.61,346.80 L45.40,347.00 L45.21,347.20 L45.03,347.40 L44.88,347.60 L44.73,347.80 L44.59,348.00 L44.40,348.31 L44.24,348.60 L44.13,348.80 L44.00,349.08 L43.86,349.40 L43.78,349.60 L43.64,350.00 L43.57,350.20 L43.45,350.60 L43.40,350.80 L43.30,351.20 L43.22,351.60 L43.18,351.80 L43.12,352.20 L43.07,352.60 L43.04,353.00 L43.01,353.40 L43.00,353.80 L43.00,354.20 L43.01,354.60 L43.03,355.00 L43.05,355.40 L43.09,355.80 L43.14,356.20 L43.19,356.60 L43.22,356.80 L43.29,357.20 L43.37,357.60 L43.42,357.80 L43.52,358.20 L43.60,358.51 L43.69,358.80 L43.80,359.15 L43.89,359.40 L44.00,359.70 L44.12,360.00 L44.21,360.20 L44.40,360.59 L44.51,360.80 L44.62,361.00 L44.80,361.30 L45.00,361.60 L45.15,361.80 L45.30,362.00 L45.48,362.20 L45.67,362.40 L45.88,362.60 L46.12,362.80 L46.40,363.00 L46.60,363.12 L46.80,363.22 L47.20,363.38 L47.40,363.43 L47.80,363.49 L48.20,363.50 L48.60,363.46 L48.89,363.40 L48.89,363.40"/><path d="M85.47,368.00 L85.80,367.93 L86.20,367.84 L86.40,367.79 L86.80,367.68 L87.07,367.60 L87.40,367.50 L87.70,367.40 L88.00,367.30 L88.28,367.20 L88.60,367.08 L88.82,367.00 L89.20,366.85 L89.40,366.77 L89.80,366.61 L90.00,366.52 L90.28,366.40 L90.60,366.26 L90.80,366.17 L91.15,366.00 L91.40,365.88 L91.60,365.78 L91.96,365.60 L92.20,365.48 L92.40,365.37 L92.72,365.20 L93.00,365.05 L93.20,364.94 L93.44,364.80 L93.78,364.60 L94.00,364.47 L94.20,364.35 L94.44,364.20 L94.76,364.00 L95.00,363.85 L95.20,363.72 L95.40,363.58 L95.67,363.40 L95.96,363.20 L96.20,363.03 L96.40,362.89 L96.60,362.74 L96.80,362.59 L97.05,362.40 L97.31,362.20 L97.56,362.00 L97.80,361.81 L98.00,361.64 L98.20,361.47 L98.40,361.30 L98.60,361.12 L98.80,360.94 L99.00,360.76 L99.20,360.58 L99.40,360.39 L99.60,360.19 L99.80,359.99 L100.00,359.79 L100.20,359.58 L100.40,359.37 L100.60,359.15 L100.80,358.92 L101.00,358.69 L101.20,358.46 L101.40,358.21 L101.57,358.00 L101.72,357.80 L101.87,357.60 L102.02,357.40 L102.20,357.15 L102.40,356.86 L102.57,356.60 L102.70,356.40 L102.83,356.20 L103.00,355.91 L103.18,355.60 L103.29,355.40 L103.40,355.19 L103.60,354.80 L103.70,354.60 L103.80,354.37 L103.96,354.00 L104.05,353.80 L104.20,353.41 L104.28,353.20 L104.40,352.83 L104.47,352.60 L104.59,352.20 L104.64,352.00 L104.74,351.60 L104.80,351.33 L104.86,351.00 L104.93,350.60 L104.98,350.20 L105.01,350.00 L105.04,349.60 L105.07,349.20 L105.09,348.80 L105.10,348.40 L105.11,348.00 L105.11,347.60 L105.13,347.20 L105.15,346.80 L105.20,346.40 L105.25,346.20 L105.22,345.80 L105.19,345.60 L105.12,345.20 L105.04,344.80 L104.99,344.60 L104.90,344.20 L104.80,343.84 L104.73,343.60 L104.60,343.21 L104.53,343.00 L104.40,342.67 L104.29,342.40 L104.20,342.20 L104.00,341.89 L103.80,341.75 L103.60,341.55 L103.40,341.32 L103.20,341.08 L103.00,340.83 L102.80,340.60 L102.62,340.40 L102.43,340.20 L102.22,340.00 L102.00,339.80 L101.80,339.64 L101.60,339.49 L101.40,339.36 L101.15,339.20 L100.80,339.01 L100.60,338.91 L100.35,338.80 L100.00,338.66 L99.80,338.59 L99.40,338.47 L99.13,338.40 L98.80,338.32 L98.40,338.24 L98.14,338.20 L97.80,338.15 L97.40,338.10 L97.00,338.06 L96.60,338.03 L96.22,338.00 L96.00,337.99 L95.60,337.97 L95.20,337.95 L94.80,337.94 L94.40,337.93 L94.00,337.92 L93.60,337.92 L93.20,337.91 L92.80,337.91 L92.40,337.90 L92.00,337.90 L91.60,337.90 L91.20,337.90 L90.80,337.90 L90.40,337.90 L90.00,337.90 L89.60,337.90 L89.20,337.90 L88.80,337.90 L88.40,337.90 L88.00,337.90 L87.60,337.90 L87.20,337.90 L86.80,337.90 L86.40,337.90 L86.00,337.90 L85.60,337.90 L85.20,337.90 L84.80,337.90 L84.40,337.90 L84.00,337.90 L83.60,337.90 L83.20,337.90 L82.80,337.90 L82.40,337.90 L82.00,337.90 L81.60,337.90 L81.20,337.90 L80.80,337.90 L80.40,337.90 L80.00,337.90 L79.60,337.90 L79.20,337.90 L78.80,337.90 L78.40,337.90 L78.00,337.90 L77.60,337.90 L77.20,337.90 L76.80,337.91 L76.40,337.91 L76.00,337.91 L75.60,337.92 L75.20,337.93 L74.80,337.94 L74.40,337.95 L74.00,337.96 L73.60,337.98 L73.27,338.00 L73.00,338.02 L72.60,338.05 L72.20,338.09 L71.80,338.14 L71.40,338.19 L71.20,338.23 L70.80,338.30 L70.40,338.39 L70.20,338.44 L69.80,338.56 L69.60,338.63 L69.20,338.78 L69.00,338.87 L68.72,339.00 L68.40,339.17 L68.20,339.29 L68.00,339.43 L67.76,339.60 L67.51,339.80 L67.29,340.00 L67.09,340.20 L66.90,340.40 L66.73,340.60 L66.57,340.80 L66.40,341.04 L66.20,341.34 L66.05,341.60 L65.94,341.80 L65.80,342.06 L65.64,342.40 L65.55,342.60 L65.40,342.98 L65.32,343.20 L65.20,343.55 L65.12,343.80 L65.01,344.20 L64.96,344.40 L64.87,344.80 L64.80,345.11 L64.74,345.40 L64.68,345.80 L64.62,346.20 L64.59,346.40 L64.55,346.80 L64.51,347.20 L64.49,347.60 L64.47,348.00 L64.45,348.40 L64.45,348.80 L64.46,349.20 L64.48,349.60 L64.51,350.00 L64.55,350.40 L64.60,350.74 L64.64,351.00 L64.72,351.40 L64.80,351.76 L64.86,352.00 L64.97,352.40 L65.03,352.60 L65.16,353.00 L65.23,353.20 L65.37,353.60 L65.45,353.80 L65.60,354.15 L65.71,354.40 L65.81,354.60 L66.00,355.00 L66.10,355.20 L66.21,355.40 L66.40,355.74 L66.55,356.00 L66.67,356.20 L66.80,356.40 L67.00,356.71 L67.20,357.00 L67.34,357.20 L67.48,357.40 L67.63,357.60 L67.80,357.83 L68.00,358.09 L68.20,358.33 L68.40,358.58 L68.59,358.80 L68.77,359.00 L68.95,359.20 L69.13,359.40 L69.32,359.60 L69.51,359.80 L69.71,360.00 L69.91,360.20 L70.11,360.40 L70.33,360.60 L70.54,360.80 L70.76,361.00 L70.99,361.20 L71.20,361.39 L71.40,361.56 L71.60,361.72 L71.80,361.89 L72.00,362.05 L72.20,362.21 L72.45,362.40 L72.71,362.60 L72.98,362.80 L73.20,362.96 L73.40,363.10 L73.60,363.24 L73.83,363.40 L74.12,363.60 L74.40,363.78 L74.60,363.91 L74.80,364.04 L75.06,364.20 L75.38,364.40 L75.60,364.53 L75.80,364.65 L76.06,364.80 L76.40,364.99 L76.60,365.10 L76.80,365.21 L77.15,365.40 L77.40,365.53 L77.60,365.63 L77.94,365.80 L78.20,365.93 L78.40,366.02 L78.78,366.20 L79.00,366.30 L79.22,366.40 L79.60,366.57 L79.80,366.65 L80.17,366.80 L80.40,366.89 L80.68,367.00 L81.00,367.12 L81.22,367.20 L81.60,367.33 L81.80,367.40 L82.20,367.53 L82.43,367.60 L82.80,367.71 L83.15,367.80 L83.40,367.86 L83.80,367.95 L84.03,368.00 L84.40,368.06 L84.80,368.10 L85.20,368.05 L85.47,368.00 L85.47,368.00"/><path d="M48.00,367.00 L48.40,366.99 L48.80,366.94 L49.20,366.87 L49.46,366.80 L49.80,366.70 L50.07,366.60 L50.40,366.46 L50.60,366.36 L50.90,366.20 L51.20,366.02 L51.40,365.89 L51.60,365.75 L51.80,365.59 L52.04,365.40 L52.26,365.20 L52.48,365.00 L52.67,364.80 L52.86,364.60 L53.04,364.40 L53.21,364.20 L53.40,363.96 L53.60,363.69 L53.80,363.40 L53.93,363.20 L54.06,363.00 L54.20,362.77 L54.40,362.42 L54.52,362.20 L54.62,362.00 L54.80,361.63 L54.91,361.40 L55.00,361.19 L55.16,360.80 L55.24,360.60 L55.38,360.20 L55.45,360.00 L55.58,359.60 L55.64,359.40 L55.75,359.00 L55.81,358.80 L55.90,358.40 L55.99,358.00 L56.03,357.80 L56.11,357.40 L56.17,357.00 L56.20,356.80 L56.26,356.40 L56.30,356.00 L56.34,355.60 L56.36,355.20 L56.38,354.80 L56.40,354.40 L56.40,354.01 L56.40,354.00 L56.39,353.60 L56.38,353.20 L56.35,352.80 L56.32,352.40 L56.27,352.00 L56.21,351.60 L56.18,351.40 L56.10,351.00 L56.02,350.60 L55.97,350.40 L55.87,350.00 L55.80,349.77 L55.69,349.40 L55.60,349.15 L55.48,348.80 L55.40,348.60 L55.23,348.20 L55.14,348.00 L55.00,347.70 L54.85,347.40 L54.74,347.20 L54.60,346.95 L54.40,346.62 L54.26,346.40 L54.13,346.20 L53.98,346.00 L53.80,345.75 L53.60,345.50 L53.40,345.27 L53.20,345.05 L53.00,344.84 L52.80,344.64 L52.60,344.46 L52.40,344.29 L52.20,344.13 L52.00,343.98 L51.75,343.80 L51.44,343.60 L51.20,343.46 L51.00,343.35 L50.69,343.20 L50.40,343.08 L50.20,343.00 L49.80,342.86 L49.56,342.80 L49.20,342.72 L48.80,342.65 L48.40,342.61 L48.00,342.60 L47.60,342.62 L47.20,342.67 L46.80,342.77 L46.60,342.83 L46.20,342.98 L46.00,343.08 L45.76,343.20 L45.42,343.40 L45.20,343.55 L45.00,343.70 L44.80,343.86 L44.60,344.04 L44.40,344.22 L44.20,344.43 L44.00,344.64 L43.80,344.88 L43.60,345.13 L43.41,345.40 L43.27,345.60 L43.14,345.80 L43.00,346.02 L42.80,346.37 L42.68,346.60 L42.57,346.80 L42.40,347.16 L42.29,347.40 L42.20,347.62 L42.05,348.00 L41.97,348.20 L41.84,348.60 L41.77,348.80 L41.65,349.20 L41.60,349.40 L41.49,349.80 L41.40,350.20 L41.36,350.40 L41.28,350.80 L41.21,351.20 L41.18,351.40 L41.13,351.80 L41.09,352.20 L41.05,352.60 L41.03,353.00 L41.01,353.40 L41.00,353.80 L41.00,354.20 L41.01,354.60 L41.02,355.00 L41.04,355.40 L41.07,355.80 L41.10,356.20 L41.14,356.60 L41.19,357.00 L41.22,357.20 L41.27,357.60 L41.34,358.00 L41.40,358.33 L41.45,358.60 L41.54,359.00 L41.60,359.27 L41.68,359.60 L41.79,360.00 L41.85,360.20 L41.97,360.60 L42.03,360.80 L42.17,361.20 L42.24,361.40 L42.40,361.80 L42.48,362.00 L42.60,362.27 L42.75,362.60 L42.85,362.80 L43.00,363.10 L43.16,363.40 L43.28,363.60 L43.40,363.80 L43.60,364.11 L43.80,364.40 L43.95,364.60 L44.10,364.80 L44.27,365.00 L44.45,365.20 L44.64,365.40 L44.84,365.60 L45.06,365.80 L45.31,366.00 L45.58,366.20 L45.80,366.34 L46.00,366.46 L46.28,366.60 L46.60,366.74 L46.80,366.81 L47.20,366.91 L47.60,366.98 L48.00,367.00 L48.00,367.00 L48.00,367.00"/><path d="M85.32,370.40 L85.60,370.34 L86.00,370.23 L86.20,370.17 L86.60,370.05 L86.80,369.99 L87.20,369.85 L87.40,369.78 L87.80,369.64 L88.00,369.57 L88.40,369.41 L88.60,369.33 L88.93,369.20 L89.20,369.09 L89.41,369.00 L89.80,368.83 L90.00,368.74 L90.31,368.60 L90.60,368.46 L90.80,368.37 L91.15,368.20 L91.40,368.08 L91.60,367.98 L91.95,367.80 L92.20,367.67 L92.40,367.57 L92.71,367.40 L93.00,367.24 L93.20,367.13 L93.44,367.00 L93.79,366.80 L94.00,366.68 L94.20,366.56 L94.46,366.40 L94.79,366.20 L95.00,366.07 L95.20,365.94 L95.43,365.80 L95.74,365.60 L96.00,365.43 L96.20,365.29 L96.40,365.16 L96.63,365.00 L96.91,364.80 L97.19,364.60 L97.40,364.45 L97.60,364.30 L97.80,364.15 L98.00,364.00 L98.26,363.80 L98.52,363.60 L98.77,363.40 L99.00,363.21 L99.20,363.05 L99.40,362.88 L99.60,362.71 L99.80,362.54 L100.00,362.36 L100.20,362.18 L100.40,362.00 L100.61,361.80 L100.82,361.60 L101.03,361.40 L101.23,361.20 L101.43,361.00 L101.63,360.80 L101.82,360.60 L102.01,360.40 L102.20,360.19 L102.40,359.97 L102.60,359.74 L102.80,359.51 L103.00,359.27 L103.20,359.03 L103.38,358.80 L103.54,358.60 L103.69,358.40 L103.84,358.20 L104.00,357.97 L104.20,357.69 L104.40,357.40 L104.53,357.20 L104.65,357.00 L104.80,356.77 L105.00,356.43 L105.13,356.20 L105.25,356.00 L105.40,355.72 L105.56,355.40 L105.66,355.20 L105.80,354.91 L105.94,354.60 L106.03,354.40 L106.20,354.00 L106.28,353.80 L106.40,353.47 L106.50,353.20 L106.60,352.89 L106.69,352.60 L106.80,352.25 L106.87,352.00 L106.98,351.60 L107.04,351.40 L107.15,351.00 L107.20,350.80 L107.32,350.40 L107.40,350.16 L107.55,349.80 L107.65,349.60 L107.80,349.36 L108.00,349.14 L108.20,348.98 L108.53,348.80 L108.80,348.70 L109.15,348.60 L109.40,348.54 L109.80,348.46 L110.15,348.40 L110.40,348.35 L110.80,348.27 L111.15,348.20 L111.40,348.14 L111.80,348.04 L112.00,347.99 L112.40,347.87 L112.61,347.80 L113.00,347.66 L113.20,347.59 L113.60,347.42 L113.80,347.32 L114.05,347.20 L114.40,347.01 L114.60,346.88 L114.80,346.75 L115.02,346.60 L115.27,346.40 L115.50,346.20 L115.70,346.00 L115.88,345.80 L116.04,345.60 L116.20,345.35 L116.38,345.00 L116.46,344.80 L116.57,344.40 L116.60,344.00 L116.60,344.00 L116.57,343.60 L116.47,343.20 L116.39,343.00 L116.20,342.61 L116.06,342.40 L115.91,342.20 L115.74,342.00 L115.55,341.80 L115.34,341.60 L115.09,341.40 L114.82,341.20 L114.60,341.05 L114.40,340.93 L114.18,340.80 L113.80,340.60 L113.60,340.51 L113.35,340.40 L113.00,340.26 L112.80,340.18 L112.40,340.05 L112.20,339.99 L111.80,339.87 L111.51,339.80 L111.20,339.73 L110.80,339.65 L110.52,339.60 L110.20,339.55 L109.80,339.50 L109.40,339.46 L109.00,339.42 L108.60,339.40 L108.40,339.39 L108.00,339.38 L107.60,339.38 L107.20,339.39 L107.00,339.40 L106.60,339.43 L106.20,339.46 L105.80,339.48 L105.40,339.46 L105.07,339.40 L104.80,339.31 L104.57,339.20 L104.23,339.00 L104.00,338.85 L103.80,338.71 L103.60,338.57 L103.34,338.40 L103.02,338.20 L102.80,338.08 L102.60,337.97 L102.25,337.80 L102.00,337.69 L101.78,337.60 L101.40,337.46 L101.20,337.40 L100.80,337.28 L100.47,337.20 L100.20,337.14 L99.80,337.06 L99.45,337.00 L99.20,336.96 L98.80,336.91 L98.40,336.87 L98.00,336.84 L97.60,336.81 L97.40,336.79 L97.00,336.77 L96.60,336.75 L96.20,336.74 L95.80,336.73 L95.40,336.72 L95.00,336.71 L94.60,336.70 L94.20,336.70 L93.80,336.70 L93.40,336.69 L93.00,336.69 L92.60,336.69 L92.20,336.69 L91.80,336.69 L91.40,336.69 L91.00,336.69 L90.60,336.69 L90.20,336.69 L89.80,336.69 L89.40,336.69 L89.00,336.69 L88.60,336.69 L88.20,336.68 L87.80,336.68 L87.40,336.68 L87.00,336.68 L86.60,336.68 L86.20,336.68 L85.80,336.68 L85.40,336.68 L85.00,336.68 L84.60,336.68 L84.20,336.68 L83.80,336.68 L83.40,336.68 L83.00,336.68 L82.60,336.68 L82.20,336.68 L81.80,336.68 L81.40,336.68 L81.00,336.69 L80.60,336.69 L80.20,336.69 L79.80,336.69 L79.40,336.69 L79.00,336.69 L78.60,336.69 L78.20,336.69 L77.80,336.69 L77.40,336.69 L77.00,336.69 L76.60,336.69 L76.20,336.69 L75.80,336.69 L75.40,336.70 L75.00,336.70 L74.60,336.71 L74.20,336.72 L73.80,336.72 L73.40,336.74 L73.00,336.75 L72.60,336.77 L72.20,336.79 L72.00,336.80 L71.60,336.83 L71.20,336.86 L70.80,336.90 L70.40,336.95 L70.05,337.00 L69.80,337.04 L69.40,337.11 L69.00,337.20 L68.80,337.25 L68.40,337.36 L68.20,337.42 L67.80,337.56 L67.60,337.64 L67.24,337.80 L67.00,337.92 L66.80,338.03 L66.51,338.20 L66.21,338.40 L66.00,338.55 L65.80,338.71 L65.60,338.88 L65.40,339.07 L65.20,339.27 L65.00,339.49 L64.80,339.72 L64.60,339.98 L64.45,340.20 L64.31,340.40 L64.19,340.60 L64.00,340.92 L63.85,341.20 L63.75,341.40 L63.60,341.73 L63.48,342.00 L63.40,342.21 L63.26,342.60 L63.19,342.80 L63.06,343.20 L63.00,343.40 L62.89,343.80 L62.80,344.17 L62.75,344.40 L62.67,344.80 L62.60,345.16 L62.56,345.40 L62.50,345.80 L62.45,346.20 L62.40,346.60 L62.38,346.80 L62.35,347.20 L62.33,347.60 L62.31,348.00 L62.30,348.40 L62.29,348.80 L62.30,349.20 L62.32,349.60 L62.34,350.00 L62.39,350.40 L62.41,350.60 L62.47,351.00 L62.54,351.40 L62.60,351.67 L62.67,352.00 L62.78,352.40 L62.83,352.60 L62.95,353.00 L63.02,353.20 L63.16,353.60 L63.23,353.80 L63.39,354.20 L63.47,354.40 L63.60,354.69 L63.74,355.00 L63.84,355.20 L64.00,355.52 L64.15,355.80 L64.25,356.00 L64.40,356.26 L64.60,356.60 L64.72,356.80 L64.85,357.00 L65.00,357.24 L65.20,357.54 L65.38,357.80 L65.52,358.00 L65.66,358.20 L65.81,358.40 L66.00,358.65 L66.20,358.90 L66.40,359.15 L66.60,359.39 L66.78,359.60 L66.95,359.80 L67.13,360.00 L67.31,360.20 L67.49,360.40 L67.68,360.60 L67.87,360.80 L68.07,361.00 L68.27,361.20 L68.47,361.40 L68.68,361.60 L68.89,361.80 L69.10,362.00 L69.32,362.20 L69.55,362.40 L69.77,362.60 L70.00,362.79 L70.20,362.96 L70.40,363.13 L70.60,363.29 L70.80,363.46 L71.00,363.61 L71.24,363.80 L71.50,364.00 L71.76,364.20 L72.00,364.38 L72.20,364.52 L72.40,364.67 L72.60,364.81 L72.87,365.00 L73.16,365.20 L73.40,365.36 L73.60,365.49 L73.80,365.62 L74.07,365.80 L74.39,366.00 L74.60,366.13 L74.80,366.26 L75.04,366.40 L75.37,366.60 L75.60,366.73 L75.80,366.85 L76.06,367.00 L76.40,367.19 L76.60,367.30 L76.80,367.41 L77.16,367.60 L77.40,367.72 L77.60,367.83 L77.94,368.00 L78.20,368.13 L78.40,368.23 L78.76,368.40 L79.00,368.51 L79.20,368.60 L79.60,368.78 L79.80,368.87 L80.10,369.00 L80.40,369.13 L80.60,369.21 L81.00,369.37 L81.20,369.45 L81.59,369.60 L81.80,369.68 L82.15,369.80 L82.40,369.89 L82.74,370.00 L83.00,370.08 L83.40,370.20 L83.60,370.26 L84.00,370.36 L84.20,370.41 L84.60,370.48 L85.00,370.47 L85.32,370.40 L85.32,370.40"/><path d="M49.16,370.40 L49.40,370.36 L49.80,370.26 L50.01,370.20 L50.40,370.07 L50.60,370.00 L51.00,369.83 L51.20,369.73 L51.45,369.60 L51.80,369.40 L52.00,369.28 L52.20,369.15 L52.42,369.00 L52.69,368.80 L52.94,368.60 L53.18,368.40 L53.40,368.20 L53.60,368.01 L53.80,367.81 L54.00,367.60 L54.19,367.40 L54.36,367.20 L54.53,367.00 L54.69,366.80 L54.85,366.60 L55.00,366.39 L55.20,366.11 L55.40,365.82 L55.54,365.60 L55.66,365.40 L55.80,365.17 L56.00,364.83 L56.12,364.60 L56.23,364.40 L56.40,364.06 L56.53,363.80 L56.62,363.60 L56.80,363.20 L56.88,363.00 L57.00,362.72 L57.12,362.40 L57.20,362.20 L57.34,361.80 L57.41,361.60 L57.54,361.20 L57.60,361.00 L57.72,360.60 L57.80,360.29 L57.87,360.00 L57.97,359.60 L58.02,359.40 L58.10,359.00 L58.18,358.60 L58.22,358.40 L58.28,358.00 L58.35,357.60 L58.40,357.20 L58.42,357.00 L58.47,356.60 L58.51,356.20 L58.54,355.80 L58.56,355.40 L58.58,355.00 L58.60,354.60 L58.60,354.40 L58.60,354.00 L58.60,353.60 L58.60,353.40 L58.58,353.00 L58.56,352.60 L58.53,352.20 L58.49,351.80 L58.44,351.40 L58.40,351.12 L58.35,350.80 L58.28,350.40 L58.20,350.00 L58.16,349.80 L58.07,349.40 L58.00,349.13 L57.91,348.80 L57.80,348.42 L57.73,348.20 L57.60,347.80 L57.53,347.60 L57.40,347.24 L57.30,347.00 L57.20,346.74 L57.05,346.40 L56.96,346.20 L56.80,345.86 L56.67,345.60 L56.57,345.40 L56.40,345.09 L56.23,344.80 L56.11,344.60 L55.99,344.40 L55.80,344.11 L55.60,343.82 L55.44,343.60 L55.29,343.40 L55.13,343.20 L54.97,343.00 L54.80,342.80 L54.60,342.58 L54.40,342.36 L54.20,342.16 L54.00,341.96 L53.80,341.78 L53.60,341.60 L53.35,341.40 L53.10,341.20 L52.82,341.00 L52.60,340.85 L52.40,340.72 L52.20,340.59 L51.85,340.40 L51.60,340.27 L51.40,340.17 L51.01,340.00 L50.80,339.92 L50.46,339.80 L50.20,339.72 L49.80,339.61 L49.60,339.57 L49.20,339.49 L48.80,339.44 L48.40,339.41 L48.00,339.40 L48.00,339.40 L47.60,339.41 L47.20,339.46 L46.80,339.53 L46.52,339.60 L46.20,339.69 L45.91,339.80 L45.60,339.93 L45.40,340.02 L45.06,340.20 L44.80,340.35 L44.60,340.48 L44.40,340.62 L44.16,340.80 L43.90,341.00 L43.67,341.20 L43.45,341.40 L43.25,341.60 L43.06,341.80 L42.87,342.00 L42.70,342.20 L42.54,342.40 L42.38,342.60 L42.20,342.84 L42.00,343.12 L41.81,343.40 L41.68,343.60 L41.56,343.80 L41.40,344.07 L41.22,344.40 L41.11,344.60 L41.00,344.82 L40.82,345.20 L40.73,345.40 L40.60,345.69 L40.47,346.00 L40.39,346.20 L40.24,346.60 L40.17,346.80 L40.04,347.20 L39.97,347.40 L39.85,347.80 L39.80,348.00 L39.69,348.40 L39.60,348.76 L39.54,349.00 L39.46,349.40 L39.40,349.70 L39.34,350.00 L39.28,350.40 L39.22,350.80 L39.19,351.00 L39.14,351.40 L39.10,351.80 L39.07,352.20 L39.04,352.60 L39.02,353.00 L39.01,353.40 L39.00,353.80 L39.00,354.20 L39.01,354.60 L39.02,355.00 L39.03,355.40 L39.05,355.80 L39.08,356.20 L39.11,356.60 L39.15,357.00 L39.19,357.40 L39.22,357.60 L39.27,358.00 L39.33,358.40 L39.39,358.80 L39.42,359.00 L39.50,359.40 L39.57,359.80 L39.62,360.00 L39.70,360.40 L39.80,360.80 L39.85,361.00 L39.96,361.40 L40.01,361.60 L40.13,362.00 L40.20,362.23 L40.32,362.60 L40.40,362.84 L40.53,363.20 L40.60,363.40 L40.76,363.80 L40.84,364.00 L41.00,364.37 L41.10,364.60 L41.20,364.81 L41.39,365.20 L41.49,365.40 L41.60,365.60 L41.80,365.96 L41.94,366.20 L42.06,366.40 L42.20,366.62 L42.40,366.92 L42.60,367.20 L42.75,367.40 L42.90,367.60 L43.07,367.80 L43.24,368.00 L43.42,368.20 L43.61,368.40 L43.81,368.60 L44.02,368.80 L44.25,369.00 L44.50,369.20 L44.77,369.40 L45.00,369.56 L45.20,369.68 L45.41,369.80 L45.80,370.00 L46.00,370.09 L46.29,370.20 L46.60,370.30 L47.00,370.40 L47.20,370.43 L47.60,370.48 L48.00,370.50 L48.40,370.49 L48.80,370.45 L49.16,370.40 L49.16,370.40"/><path d="M87.62,388.80 L88.00,388.77 L88.40,388.74 L88.80,388.70 L89.20,388.67 L89.60,388.63 L89.85,388.60 L90.20,388.56 L90.60,388.51 L91.00,388.46 L91.40,388.41 L91.60,388.38 L92.00,388.33 L92.40,388.26 L92.80,388.20 L93.00,388.17 L93.40,388.10 L93.80,388.02 L94.00,387.98 L94.40,387.90 L94.80,387.81 L95.00,387.77 L95.40,387.67 L95.68,387.60 L96.00,387.51 L96.40,387.40 L96.60,387.34 L97.00,387.21 L97.20,387.14 L97.59,387.00 L97.80,386.92 L98.07,386.80 L98.40,386.65 L98.60,386.55 L98.86,386.40 L99.17,386.20 L99.40,386.02 L99.60,385.84 L99.80,385.60 L99.91,385.40 L100.00,385.00 L99.91,384.60 L99.80,384.40 L99.60,384.16 L99.40,383.98 L99.17,383.80 L98.86,383.60 L98.60,383.45 L98.40,383.35 L98.07,383.20 L97.80,383.08 L97.59,383.00 L97.20,382.86 L97.00,382.79 L96.60,382.66 L96.40,382.60 L96.00,382.49 L95.68,382.40 L95.40,382.33 L95.00,382.23 L94.80,382.19 L94.40,382.10 L94.00,382.02 L93.80,381.98 L93.40,381.90 L93.00,381.83 L92.80,381.80 L92.40,381.74 L92.00,381.67 L91.60,381.62 L91.40,381.59 L91.00,381.54 L90.60,381.49 L90.20,381.44 L89.85,381.40 L89.60,381.37 L89.20,381.33 L88.80,381.30 L88.40,381.26 L88.00,381.23 L87.62,381.20 L87.40,381.18 L87.00,381.16 L86.60,381.13 L86.20,381.11 L85.80,381.09 L85.40,381.07 L85.00,381.06 L84.60,381.04 L84.20,381.03 L83.80,381.02 L83.40,381.01 L83.00,381.01 L82.60,381.00 L82.20,381.00 L82.00,381.00 L81.80,381.00 L81.40,381.00 L81.00,381.01 L80.60,381.02 L80.20,381.03 L79.80,381.04 L79.40,381.05 L79.00,381.07 L78.60,381.09 L78.20,381.11 L77.80,381.14 L77.40,381.17 L77.00,381.20 L76.80,381.22 L76.40,381.25 L76.00,381.29 L75.60,381.33 L75.20,381.38 L75.00,381.40 L74.60,381.45 L74.20,381.51 L73.80,381.57 L73.57,381.60 L73.20,381.66 L72.80,381.73 L72.40,381.80 L72.20,381.84 L71.80,381.92 L71.42,382.00 L71.20,382.05 L70.80,382.14 L70.57,382.20 L70.20,382.30 L69.84,382.40 L69.60,382.47 L69.20,382.60 L69.00,382.67 L68.64,382.80 L68.40,382.89 L68.14,383.00 L67.80,383.16 L67.60,383.26 L67.34,383.40 L67.01,383.60 L66.80,383.75 L66.60,383.92 L66.40,384.11 L66.20,384.37 L66.08,384.60 L66.00,385.00 L66.00,385.00 L66.08,385.40 L66.20,385.63 L66.40,385.89 L66.60,386.08 L66.80,386.25 L67.01,386.40 L67.34,386.60 L67.60,386.74 L67.80,386.84 L68.14,387.00 L68.40,387.11 L68.64,387.20 L69.00,387.33 L69.20,387.40 L69.60,387.53 L69.84,387.60 L70.20,387.70 L70.57,387.80 L70.80,387.86 L71.20,387.95 L71.42,388.00 L71.80,388.08 L72.20,388.16 L72.40,388.20 L72.80,388.27 L73.20,388.34 L73.57,388.40 L73.80,388.43 L74.20,388.49 L74.60,388.55 L75.00,388.60 L75.20,388.62 L75.60,388.67 L76.00,388.71 L76.40,388.75 L76.80,388.78 L77.00,388.80 L77.40,388.83 L77.80,388.86 L78.20,388.89 L78.60,388.91 L79.00,388.93 L79.40,388.95 L79.80,388.96 L80.20,388.97 L80.60,388.98 L81.00,388.99 L81.40,389.00 L81.80,389.00 L82.20,389.00 L82.60,389.00 L83.00,388.99 L83.40,388.99 L83.80,388.98 L84.20,388.97 L84.60,388.96 L85.00,388.94 L85.40,388.93 L85.80,388.91 L86.20,388.89 L86.60,388.87 L87.00,388.84 L87.40,388.82 L87.62,388.80 L87.62,388.80"/><path d="M48.10,374.00 L48.40,373.99 L48.80,373.96 L49.20,373.91 L49.60,373.85 L49.83,373.80 L50.20,373.71 L50.58,373.60 L50.80,373.53 L51.15,373.40 L51.40,373.30 L51.63,373.20 L52.00,373.03 L52.20,372.93 L52.44,372.80 L52.80,372.60 L53.00,372.48 L53.20,372.36 L53.44,372.20 L53.74,372.00 L54.00,371.81 L54.20,371.66 L54.40,371.51 L54.60,371.35 L54.80,371.18 L55.01,371.00 L55.24,370.80 L55.44,370.60 L55.64,370.40 L55.82,370.20 L56.00,369.99 L56.20,369.74 L56.40,369.47 L56.58,369.20 L56.71,369.00 L56.84,368.80 L57.00,368.52 L57.18,368.20 L57.29,368.00 L57.40,367.80 L57.60,367.41 L57.71,367.20 L57.81,367.00 L58.00,366.60 L58.10,366.40 L58.20,366.18 L58.37,365.80 L58.46,365.60 L58.60,365.26 L58.71,365.00 L58.80,364.77 L58.95,364.40 L59.02,364.20 L59.17,363.80 L59.24,363.60 L59.37,363.20 L59.43,363.00 L59.56,362.60 L59.62,362.40 L59.73,362.00 L59.80,361.76 L59.90,361.40 L59.99,361.00 L60.04,360.80 L60.13,360.40 L60.20,360.09 L60.26,359.80 L60.34,359.40 L60.40,359.09 L60.45,358.80 L60.52,358.40 L60.59,358.00 L60.63,357.80 L60.71,357.40 L60.79,357.00 L60.84,356.80 L60.95,356.40 L61.04,356.20 L61.20,355.98 L61.55,356.00 L61.80,356.20 L61.98,356.40 L62.13,356.60 L62.29,356.80 L62.43,357.00 L62.60,357.23 L62.80,357.51 L63.00,357.79 L63.15,358.00 L63.29,358.20 L63.44,358.40 L63.60,358.62 L63.80,358.88 L64.00,359.14 L64.20,359.40 L64.36,359.60 L64.53,359.80 L64.69,360.00 L64.86,360.20 L65.03,360.40 L65.21,360.60 L65.40,360.82 L65.60,361.04 L65.80,361.25 L66.00,361.47 L66.20,361.67 L66.40,361.88 L66.60,362.08 L66.80,362.28 L67.00,362.47 L67.20,362.66 L67.40,362.85 L67.60,363.04 L67.80,363.22 L68.00,363.40 L68.22,363.60 L68.45,363.80 L68.69,364.00 L68.92,364.20 L69.16,364.40 L69.40,364.60 L69.60,364.76 L69.80,364.92 L70.00,365.07 L70.20,365.23 L70.42,365.40 L70.69,365.60 L70.95,365.80 L71.20,365.98 L71.40,366.13 L71.60,366.27 L71.80,366.41 L72.07,366.60 L72.36,366.80 L72.60,366.96 L72.80,367.10 L73.00,367.23 L73.26,367.40 L73.56,367.60 L73.80,367.75 L74.00,367.88 L74.20,368.00 L74.52,368.20 L74.80,368.37 L75.00,368.49 L75.20,368.61 L75.52,368.80 L75.80,368.96 L76.00,369.07 L76.22,369.20 L76.58,369.40 L76.80,369.52 L77.00,369.63 L77.32,369.80 L77.60,369.95 L77.80,370.05 L78.08,370.20 L78.40,370.36 L78.60,370.46 L78.88,370.60 L79.20,370.76 L79.40,370.85 L79.71,371.00 L80.00,371.13 L80.20,371.23 L80.59,371.40 L80.80,371.49 L81.05,371.60 L81.40,371.75 L81.60,371.83 L82.00,372.00 L82.20,372.08 L82.52,372.20 L82.80,372.31 L83.06,372.40 L83.40,372.52 L83.64,372.60 L84.00,372.71 L84.30,372.80 L84.60,372.88 L85.00,372.85 L85.20,372.80 L85.60,372.68 L85.86,372.60 L86.20,372.48 L86.44,372.40 L86.80,372.27 L87.00,372.19 L87.40,372.04 L87.60,371.96 L87.98,371.80 L88.20,371.71 L88.45,371.60 L88.80,371.45 L89.00,371.36 L89.35,371.20 L89.60,371.09 L89.80,370.99 L90.20,370.80 L90.40,370.71 L90.62,370.60 L91.00,370.41 L91.20,370.31 L91.42,370.20 L91.80,370.00 L92.00,369.90 L92.20,369.79 L92.56,369.60 L92.80,369.47 L93.00,369.36 L93.28,369.20 L93.60,369.02 L93.80,368.90 L94.00,368.79 L94.32,368.60 L94.60,368.43 L94.80,368.31 L95.00,368.19 L95.30,368.00 L95.60,367.81 L95.80,367.69 L96.00,367.56 L96.24,367.40 L96.55,367.20 L96.80,367.03 L97.00,366.90 L97.20,366.76 L97.43,366.60 L97.72,366.40 L98.00,366.20 L98.20,366.05 L98.40,365.91 L98.60,365.76 L98.81,365.60 L99.08,365.40 L99.34,365.20 L99.59,365.00 L99.80,364.84 L100.00,364.68 L100.20,364.51 L100.40,364.35 L100.60,364.18 L100.81,364.00 L101.05,363.80 L101.28,363.60 L101.50,363.40 L101.72,363.20 L101.94,363.00 L102.16,362.80 L102.37,362.60 L102.57,362.40 L102.78,362.20 L102.98,362.00 L103.18,361.80 L103.37,361.60 L103.56,361.40 L103.75,361.20 L103.93,361.00 L104.11,360.80 L104.29,360.60 L104.46,360.40 L104.63,360.20 L104.80,360.00 L105.00,359.76 L105.20,359.51 L105.40,359.25 L105.59,359.00 L105.74,358.80 L105.89,358.60 L106.03,358.40 L106.20,358.16 L106.40,357.86 L106.57,357.60 L106.70,357.40 L106.82,357.20 L107.00,356.91 L107.18,356.60 L107.30,356.40 L107.41,356.20 L107.60,355.86 L107.74,355.60 L107.84,355.40 L108.00,355.09 L108.14,354.80 L108.24,354.60 L108.40,354.28 L108.54,354.00 L108.64,353.80 L108.80,353.50 L108.97,353.20 L109.10,353.00 L109.24,352.80 L109.40,352.59 L109.60,352.38 L109.80,352.20 L110.08,352.00 L110.40,351.83 L110.60,351.74 L110.96,351.60 L111.20,351.52 L111.60,351.40 L111.80,351.34 L112.20,351.23 L112.40,351.17 L112.80,351.05 L113.00,350.99 L113.40,350.86 L113.60,350.79 L114.00,350.64 L114.20,350.56 L114.60,350.40 L114.80,350.31 L115.04,350.20 L115.40,350.03 L115.60,349.92 L115.83,349.80 L116.17,349.60 L116.40,349.46 L116.60,349.33 L116.80,349.20 L117.07,349.00 L117.34,348.80 L117.58,348.60 L117.80,348.41 L118.00,348.22 L118.20,348.02 L118.40,347.81 L118.58,347.60 L118.74,347.40 L118.89,347.20 L119.03,347.00 L119.20,346.74 L119.39,346.40 L119.49,346.20 L119.60,345.95 L119.73,345.60 L119.80,345.39 L119.90,345.00 L119.96,344.60 L120.00,344.20 L120.00,344.00 L119.99,343.80 L119.94,343.40 L119.85,343.00 L119.78,342.80 L119.60,342.40 L119.49,342.20 L119.37,342.00 L119.20,341.76 L119.00,341.50 L118.80,341.28 L118.60,341.07 L118.40,340.88 L118.20,340.71 L118.00,340.55 L117.80,340.39 L117.53,340.20 L117.22,340.00 L117.00,339.87 L116.80,339.75 L116.52,339.60 L116.20,339.44 L116.00,339.34 L115.69,339.20 L115.40,339.08 L115.20,339.00 L114.80,338.85 L114.60,338.78 L114.20,338.65 L114.00,338.59 L113.60,338.47 L113.33,338.40 L113.00,338.32 L112.60,338.23 L112.40,338.18 L112.00,338.10 L111.60,338.03 L111.39,338.00 L111.00,337.94 L110.60,337.89 L110.20,337.84 L109.80,337.80 L109.60,337.79 L109.20,337.75 L108.80,337.73 L108.40,337.70 L108.00,337.67 L107.60,337.64 L107.20,337.62 L107.00,337.60 L106.60,337.56 L106.20,337.49 L105.83,337.40 L105.60,337.33 L105.25,337.20 L105.00,337.10 L104.78,337.00 L104.40,336.83 L104.20,336.74 L103.87,336.60 L103.60,336.49 L103.38,336.40 L103.00,336.25 L102.80,336.18 L102.40,336.05 L102.20,335.98 L101.80,335.86 L101.60,335.80 L101.20,335.69 L100.82,335.60 L100.60,335.56 L100.20,335.51 L99.80,335.47 L99.40,335.44 L99.00,335.41 L98.80,335.40 L98.40,335.38 L98.00,335.36 L97.60,335.34 L97.20,335.33 L96.80,335.32 L96.40,335.31 L96.00,335.30 L95.60,335.30 L95.20,335.29 L94.80,335.29 L94.40,335.28 L94.00,335.28 L93.60,335.28 L93.20,335.28 L92.80,335.28 L92.40,335.28 L92.00,335.28 L91.60,335.28 L91.20,335.28 L90.80,335.28 L90.40,335.28 L90.00,335.28 L89.60,335.28 L89.20,335.28 L88.80,335.28 L88.40,335.28 L88.00,335.28 L87.60,335.28 L87.20,335.28 L86.80,335.28 L86.40,335.28 L86.00,335.28 L85.60,335.28 L85.20,335.28 L84.80,335.28 L84.40,335.28 L84.00,335.28 L83.60,335.28 L83.20,335.28 L82.80,335.28 L82.40,335.28 L82.00,335.28 L81.60,335.28 L81.20,335.28 L80.80,335.28 L80.40,335.28 L80.00,335.28 L79.60,335.28 L79.20,335.28 L78.80,335.28 L78.40,335.28 L78.00,335.28 L77.60,335.28 L77.20,335.28 L76.80,335.28 L76.40,335.28 L76.00,335.28 L75.60,335.28 L75.20,335.28 L74.80,335.29 L74.40,335.29 L74.00,335.29 L73.60,335.30 L73.20,335.31 L72.80,335.31 L72.40,335.33 L72.00,335.34 L71.60,335.35 L71.20,335.37 L70.80,335.39 L70.60,335.41 L70.20,335.43 L69.80,335.46 L69.40,335.50 L69.00,335.55 L68.61,335.60 L68.40,335.63 L68.00,335.69 L67.60,335.77 L67.40,335.81 L67.00,335.91 L66.67,336.00 L66.40,336.08 L66.04,336.20 L65.80,336.29 L65.53,336.40 L65.20,336.55 L65.00,336.66 L64.80,336.83 L64.60,337.04 L64.40,337.22 L64.20,337.41 L63.99,337.60 L63.78,337.80 L63.58,338.00 L63.39,338.20 L63.20,338.42 L63.00,338.65 L62.80,338.91 L62.60,339.18 L62.45,339.40 L62.32,339.60 L62.20,339.80 L62.00,340.14 L61.86,340.40 L61.76,340.60 L61.60,340.94 L61.48,341.20 L61.39,341.40 L61.23,341.80 L61.16,342.00 L61.01,342.40 L60.94,342.60 L60.81,343.00 L60.74,343.20 L60.61,343.60 L60.54,343.80 L60.41,344.20 L60.33,344.40 L60.20,344.71 L60.02,345.00 L59.80,345.17 L59.43,345.00 L59.25,344.80 L59.11,344.60 L58.97,344.40 L58.80,344.13 L58.60,343.80 L58.48,343.60 L58.36,343.40 L58.20,343.14 L58.00,342.81 L57.87,342.60 L57.74,342.40 L57.60,342.19 L57.40,341.89 L57.20,341.60 L57.05,341.40 L56.90,341.20 L56.75,341.00 L56.59,340.80 L56.40,340.56 L56.20,340.33 L56.00,340.10 L55.80,339.88 L55.60,339.68 L55.40,339.47 L55.20,339.28 L55.00,339.10 L54.80,338.92 L54.60,338.75 L54.40,338.58 L54.16,338.40 L53.90,338.20 L53.61,338.00 L53.40,337.86 L53.20,337.73 L52.98,337.60 L52.62,337.40 L52.40,337.28 L52.20,337.19 L51.80,337.00 L51.60,336.92 L51.29,336.80 L51.00,336.70 L50.70,336.60 L50.40,336.52 L50.00,336.42 L49.80,336.38 L49.40,336.31 L49.00,336.25 L48.60,336.22 L48.20,336.20 L48.00,336.20 L47.80,336.20 L47.40,336.23 L47.00,336.27 L46.60,336.34 L46.36,336.40 L46.00,336.50 L45.68,336.60 L45.40,336.70 L45.17,336.80 L44.80,336.97 L44.60,337.07 L44.37,337.20 L44.03,337.40 L43.80,337.55 L43.60,337.69 L43.40,337.83 L43.18,338.00 L42.93,338.20 L42.70,338.40 L42.48,338.60 L42.28,338.80 L42.08,339.00 L41.89,339.20 L41.71,339.40 L41.53,339.60 L41.37,339.80 L41.20,340.01 L41.00,340.27 L40.80,340.54 L40.62,340.80 L40.49,341.00 L40.36,341.20 L40.20,341.45 L40.00,341.78 L39.88,342.00 L39.76,342.20 L39.60,342.51 L39.45,342.80 L39.35,343.00 L39.20,343.32 L39.07,343.60 L38.99,343.80 L38.82,344.20 L38.74,344.40 L38.60,344.76 L38.51,345.00 L38.40,345.31 L38.30,345.60 L38.20,345.92 L38.11,346.20 L38.00,346.58 L37.94,346.80 L37.83,347.20 L37.78,347.40 L37.69,347.80 L37.60,348.20 L37.56,348.40 L37.48,348.80 L37.41,349.20 L37.37,349.40 L37.31,349.80 L37.25,350.20 L37.20,350.60 L37.18,350.80 L37.14,351.20 L37.10,351.60 L37.07,352.00 L37.04,352.40 L37.03,352.80 L37.01,353.20 L37.00,353.60 L37.00,354.00 L37.00,354.40 L37.01,354.80 L37.02,355.20 L37.04,355.60 L37.06,356.00 L37.08,356.40 L37.11,356.80 L37.14,357.20 L37.18,357.60 L37.20,357.80 L37.25,358.20 L37.29,358.60 L37.35,359.00 L37.40,359.34 L37.44,359.60 L37.51,360.00 L37.58,360.40 L37.62,360.60 L37.70,361.00 L37.78,361.40 L37.83,361.60 L37.92,362.00 L38.00,362.33 L38.07,362.60 L38.18,363.00 L38.23,363.20 L38.35,363.60 L38.41,363.80 L38.54,364.20 L38.60,364.40 L38.74,364.80 L38.81,365.00 L38.96,365.40 L39.04,365.60 L39.20,366.00 L39.28,366.20 L39.40,366.47 L39.55,366.80 L39.64,367.00 L39.80,367.33 L39.93,367.60 L40.04,367.80 L40.20,368.10 L40.37,368.40 L40.48,368.60 L40.60,368.80 L40.80,369.12 L40.98,369.40 L41.12,369.60 L41.26,369.80 L41.40,370.00 L41.60,370.27 L41.80,370.52 L42.00,370.76 L42.20,370.99 L42.39,371.20 L42.58,371.40 L42.78,371.60 L42.98,371.80 L43.20,372.00 L43.40,372.17 L43.60,372.33 L43.80,372.48 L44.00,372.63 L44.25,372.80 L44.57,373.00 L44.80,373.14 L45.00,373.24 L45.33,373.40 L45.60,373.52 L45.81,373.60 L46.20,373.73 L46.45,373.80 L46.80,373.88 L47.20,373.95 L47.60,373.99 L47.94,374.00 L48.10,374.00 L48.10,374.00"/><path d="M61.23,378.40 L61.60,378.35 L62.00,378.25 L62.20,378.18 L62.60,378.01 L62.80,377.90 L63.00,377.78 L63.26,377.60 L63.50,377.40 L63.71,377.20 L63.90,377.00 L64.06,376.80 L64.21,376.60 L64.40,376.29 L64.55,376.00 L64.64,375.80 L64.79,375.40 L64.85,375.20 L64.93,374.80 L64.99,374.40 L65.00,374.10 L65.00,373.91 L64.98,373.60 L64.93,373.20 L64.84,372.80 L64.78,372.60 L64.63,372.20 L64.54,372.00 L64.40,371.73 L64.20,371.42 L64.04,371.20 L63.87,371.00 L63.68,370.80 L63.47,370.60 L63.22,370.40 L63.00,370.25 L62.80,370.13 L62.56,370.00 L62.20,369.84 L62.00,369.78 L61.60,369.67 L61.20,369.60 L61.00,369.58 L60.60,369.57 L60.22,369.60 L60.00,369.63 L59.60,369.71 L59.29,369.80 L59.00,369.91 L58.78,370.00 L58.40,370.20 L58.20,370.33 L58.00,370.47 L57.80,370.64 L57.60,370.83 L57.40,371.05 L57.20,371.33 L57.04,371.60 L56.94,371.80 L56.80,372.14 L56.72,372.40 L56.62,372.80 L56.59,373.00 L56.54,373.40 L56.53,373.80 L56.54,374.20 L56.59,374.60 L56.63,374.80 L56.73,375.20 L56.80,375.42 L56.95,375.80 L57.04,376.00 L57.20,376.29 L57.40,376.60 L57.55,376.80 L57.72,377.00 L57.91,377.20 L58.13,377.40 L58.38,377.60 L58.60,377.76 L58.80,377.88 L59.03,378.00 L59.40,378.16 L59.60,378.23 L60.00,378.33 L60.40,378.40 L60.60,378.41 L61.00,378.42 L61.23,378.40 L61.23,378.40"/><path d="M87.37,391.40 L87.60,391.38 L88.00,391.35 L88.40,391.31 L88.80,391.28 L89.20,391.24 L89.54,391.20 L89.80,391.17 L90.20,391.12 L90.60,391.07 L91.00,391.02 L91.20,391.00 L91.60,390.94 L92.00,390.88 L92.40,390.82 L92.60,390.78 L93.00,390.72 L93.40,390.64 L93.64,390.60 L94.00,390.53 L94.40,390.45 L94.65,390.40 L95.00,390.32 L95.40,390.23 L95.60,390.19 L96.00,390.09 L96.36,390.00 L96.60,389.94 L97.00,389.83 L97.20,389.77 L97.60,389.65 L97.80,389.59 L98.20,389.47 L98.40,389.40 L98.80,389.26 L99.00,389.19 L99.40,389.04 L99.60,388.96 L99.99,388.80 L100.20,388.71 L100.44,388.60 L100.80,388.43 L101.00,388.33 L101.24,388.20 L101.60,388.00 L101.80,387.88 L102.00,387.75 L102.22,387.60 L102.49,387.40 L102.74,387.20 L102.97,387.00 L103.17,386.80 L103.34,386.60 L103.50,386.40 L103.63,386.20 L103.80,385.88 L103.91,385.60 L103.99,385.20 L103.99,384.80 L103.91,384.40 L103.80,384.12 L103.63,383.80 L103.50,383.60 L103.34,383.40 L103.17,383.20 L102.97,383.00 L102.74,382.80 L102.49,382.60 L102.22,382.40 L102.00,382.25 L101.80,382.12 L101.60,382.00 L101.24,381.80 L101.00,381.67 L100.80,381.57 L100.44,381.40 L100.20,381.29 L99.99,381.20 L99.60,381.04 L99.40,380.96 L99.00,380.81 L98.80,380.74 L98.40,380.60 L98.20,380.53 L97.80,380.41 L97.60,380.35 L97.20,380.23 L97.00,380.17 L96.60,380.06 L96.36,380.00 L96.00,379.91 L95.60,379.81 L95.40,379.77 L95.00,379.68 L94.65,379.60 L94.40,379.55 L94.00,379.47 L93.64,379.40 L93.40,379.36 L93.00,379.28 L92.60,379.22 L92.40,379.18 L92.00,379.12 L91.60,379.06 L91.20,379.00 L91.00,378.98 L90.60,378.93 L90.20,378.88 L89.80,378.83 L89.54,378.80 L89.20,378.76 L88.80,378.72 L88.40,378.68 L88.00,378.65 L87.60,378.62 L87.39,378.60 L87.00,378.57 L86.60,378.54 L86.20,378.52 L85.80,378.50 L85.40,378.48 L85.00,378.46 L84.60,378.44 L84.20,378.43 L83.80,378.42 L83.40,378.41 L83.00,378.41 L82.60,378.40 L82.40,378.40 L82.00,378.40 L81.68,378.40 L81.40,378.40 L81.00,378.41 L80.60,378.42 L80.20,378.43 L79.80,378.44 L79.40,378.46 L79.00,378.47 L78.60,378.50 L78.20,378.52 L77.80,378.55 L77.40,378.58 L77.11,378.60 L76.80,378.63 L76.40,378.66 L76.00,378.70 L75.60,378.75 L75.20,378.79 L75.00,378.82 L74.60,378.87 L74.20,378.92 L73.80,378.98 L73.60,379.01 L73.20,379.07 L72.80,379.14 L72.45,379.20 L72.20,379.25 L71.80,379.32 L71.41,379.40 L71.20,379.44 L70.80,379.53 L70.49,379.60 L70.20,379.67 L69.80,379.77 L69.60,379.82 L69.20,379.92 L68.92,380.00 L68.60,380.09 L68.23,380.20 L68.00,380.27 L67.61,380.40 L67.40,380.47 L67.04,380.60 L66.80,380.69 L66.51,380.80 L66.20,380.92 L66.00,381.01 L65.60,381.19 L65.40,381.28 L65.16,381.40 L64.80,381.59 L64.60,381.71 L64.40,381.83 L64.12,382.00 L63.83,382.20 L63.60,382.38 L63.40,382.54 L63.20,382.71 L63.00,382.91 L62.80,383.12 L62.60,383.37 L62.44,383.60 L62.32,383.80 L62.20,384.04 L62.07,384.40 L62.00,384.80 L61.99,385.00 L62.00,385.20 L62.08,385.60 L62.20,385.93 L62.33,386.20 L62.45,386.40 L62.60,386.61 L62.80,386.85 L63.00,387.06 L63.20,387.25 L63.40,387.43 L63.62,387.60 L63.89,387.80 L64.19,388.00 L64.40,388.13 L64.60,388.25 L64.86,388.40 L65.20,388.58 L65.40,388.68 L65.65,388.80 L66.00,388.96 L66.20,389.05 L66.57,389.20 L66.80,389.29 L67.09,389.40 L67.40,389.51 L67.66,389.60 L68.00,389.71 L68.27,389.80 L68.60,389.90 L68.95,390.00 L69.20,390.07 L69.60,390.18 L69.80,390.23 L70.20,390.33 L70.50,390.40 L70.80,390.47 L71.20,390.56 L71.42,390.60 L71.80,390.68 L72.20,390.75 L72.46,390.80 L72.80,390.86 L73.20,390.93 L73.60,390.99 L73.80,391.02 L74.20,391.08 L74.60,391.13 L75.00,391.18 L75.20,391.21 L75.60,391.25 L76.00,391.30 L76.40,391.34 L76.80,391.37 L77.11,391.40 L77.40,391.42 L77.80,391.45 L78.20,391.48 L78.60,391.50 L79.00,391.53 L79.40,391.54 L79.80,391.56 L80.20,391.57 L80.60,391.58 L81.00,391.59 L81.40,391.60 L81.80,391.60 L82.20,391.60 L82.60,391.60 L83.00,391.59 L83.40,391.59 L83.80,391.58 L84.20,391.57 L84.60,391.55 L85.00,391.54 L85.40,391.52 L85.80,391.50 L86.20,391.48 L86.60,391.45 L87.00,391.43 L87.37,391.40 L87.37,391.40"/><path d="M87.39,394.00 L87.60,393.98 L88.00,393.95 L88.40,393.92 L88.80,393.88 L89.20,393.84 L89.58,393.80 L89.80,393.78 L90.20,393.73 L90.60,393.68 L91.00,393.63 L91.24,393.60 L91.60,393.55 L92.00,393.49 L92.40,393.43 L92.60,393.40 L93.00,393.34 L93.40,393.27 L93.79,393.20 L94.00,393.16 L94.40,393.09 L94.80,393.01 L95.00,392.97 L95.40,392.88 L95.79,392.80 L96.00,392.75 L96.40,392.66 L96.65,392.60 L97.00,392.51 L97.40,392.41 L97.60,392.36 L98.00,392.25 L98.20,392.20 L98.60,392.08 L98.87,392.00 L99.20,391.90 L99.51,391.80 L99.80,391.71 L100.11,391.60 L100.40,391.50 L100.68,391.40 L101.00,391.28 L101.21,391.20 L101.60,391.04 L101.80,390.96 L102.18,390.80 L102.40,390.70 L102.63,390.60 L103.00,390.42 L103.20,390.33 L103.45,390.20 L103.80,390.01 L104.00,389.90 L104.20,389.79 L104.52,389.60 L104.80,389.42 L105.00,389.29 L105.20,389.15 L105.41,389.00 L105.68,388.80 L105.93,388.60 L106.16,388.40 L106.38,388.20 L106.58,388.00 L106.77,387.80 L106.94,387.60 L107.10,387.40 L107.25,387.20 L107.40,386.96 L107.60,386.61 L107.70,386.40 L107.80,386.14 L107.90,385.80 L107.98,385.40 L108.00,385.00 L107.98,384.60 L107.90,384.20 L107.80,383.86 L107.70,383.60 L107.60,383.39 L107.40,383.04 L107.25,382.80 L107.10,382.60 L106.94,382.40 L106.77,382.20 L106.58,382.00 L106.38,381.80 L106.16,381.60 L105.93,381.40 L105.68,381.20 L105.41,381.00 L105.20,380.85 L105.00,380.71 L104.80,380.58 L104.52,380.40 L104.20,380.21 L104.00,380.10 L103.80,379.99 L103.45,379.80 L103.20,379.67 L103.00,379.58 L102.63,379.40 L102.40,379.30 L102.18,379.20 L101.80,379.04 L101.60,378.96 L101.21,378.80 L101.00,378.72 L100.68,378.60 L100.40,378.50 L100.11,378.40 L99.80,378.29 L99.51,378.20 L99.20,378.10 L98.87,378.00 L98.60,377.92 L98.20,377.80 L98.00,377.75 L97.60,377.64 L97.40,377.59 L97.00,377.49 L96.65,377.40 L96.40,377.34 L96.00,377.25 L95.79,377.20 L95.40,377.12 L95.00,377.03 L94.80,376.99 L94.40,376.91 L94.00,376.84 L93.80,376.80 L93.40,376.73 L93.00,376.66 L92.64,376.60 L92.40,376.56 L92.00,376.50 L91.60,376.44 L91.35,376.40 L91.00,376.35 L90.60,376.29 L90.20,376.24 L89.94,376.20 L89.60,376.15 L89.20,376.09 L88.80,376.03 L88.57,376.00 L88.20,375.93 L87.80,375.86 L87.54,375.80 L87.20,375.69 L86.95,375.60 L86.70,375.40 L86.78,375.00 L86.98,374.80 L87.20,374.64 L87.40,374.50 L87.60,374.37 L87.88,374.20 L88.20,374.01 L88.40,373.90 L88.60,373.79 L88.95,373.60 L89.20,373.47 L89.40,373.36 L89.69,373.20 L90.00,373.04 L90.20,372.93 L90.44,372.80 L90.80,372.61 L91.00,372.50 L91.20,372.39 L91.55,372.20 L91.80,372.07 L92.00,371.95 L92.27,371.80 L92.60,371.61 L92.80,371.51 L93.00,371.39 L93.33,371.20 L93.60,371.04 L93.80,370.93 L94.00,370.80 L94.35,370.60 L94.60,370.45 L94.80,370.33 L95.00,370.20 L95.33,370.00 L95.60,369.83 L95.80,369.71 L96.00,369.58 L96.28,369.40 L96.58,369.20 L96.80,369.06 L97.00,368.93 L97.20,368.79 L97.49,368.60 L97.78,368.40 L98.00,368.25 L98.20,368.12 L98.40,367.97 L98.64,367.80 L98.92,367.60 L99.19,367.40 L99.40,367.25 L99.60,367.11 L99.80,366.95 L100.00,366.80 L100.26,366.60 L100.52,366.40 L100.77,366.20 L101.00,366.02 L101.20,365.87 L101.40,365.70 L101.60,365.54 L101.80,365.37 L102.00,365.20 L102.24,365.00 L102.47,364.80 L102.70,364.60 L102.93,364.40 L103.15,364.20 L103.37,364.00 L103.58,363.80 L103.79,363.60 L104.00,363.40 L104.20,363.21 L104.40,363.02 L104.60,362.82 L104.80,362.62 L105.00,362.41 L105.20,362.21 L105.40,362.00 L105.58,361.80 L105.77,361.60 L105.95,361.40 L106.13,361.20 L106.31,361.00 L106.48,360.80 L106.65,360.60 L106.81,360.40 L107.00,360.17 L107.20,359.93 L107.40,359.67 L107.60,359.41 L107.77,359.20 L107.92,359.00 L108.06,358.80 L108.21,358.60 L108.40,358.34 L108.60,358.06 L108.79,357.80 L108.93,357.60 L109.07,357.40 L109.21,357.20 L109.40,356.94 L109.60,356.67 L109.80,356.42 L109.98,356.20 L110.15,356.00 L110.34,355.80 L110.55,355.60 L110.78,355.40 L111.00,355.23 L111.20,355.10 L111.40,354.98 L111.76,354.80 L112.00,354.70 L112.24,354.60 L112.60,354.47 L112.80,354.40 L113.20,354.26 L113.40,354.20 L113.80,354.06 L114.00,354.00 L114.40,353.86 L114.60,353.79 L115.00,353.64 L115.20,353.56 L115.59,353.40 L115.80,353.31 L116.06,353.20 L116.40,353.04 L116.60,352.95 L116.89,352.80 L117.20,352.64 L117.40,352.53 L117.63,352.40 L117.97,352.20 L118.20,352.06 L118.40,351.93 L118.60,351.80 L118.89,351.60 L119.16,351.40 L119.40,351.22 L119.60,351.06 L119.80,350.90 L120.00,350.72 L120.20,350.55 L120.40,350.36 L120.60,350.16 L120.80,349.96 L121.00,349.74 L121.20,349.52 L121.40,349.28 L121.60,349.02 L121.76,348.80 L121.90,348.60 L122.04,348.40 L122.20,348.14 L122.39,347.80 L122.50,347.60 L122.60,347.40 L122.78,347.00 L122.86,346.80 L123.00,346.42 L123.07,346.20 L123.18,345.80 L123.23,345.60 L123.30,345.20 L123.36,344.80 L123.39,344.40 L123.40,344.00 L123.40,344.00 L123.38,343.60 L123.32,343.20 L123.22,342.80 L123.16,342.60 L123.00,342.21 L122.90,342.00 L122.79,341.80 L122.60,341.49 L122.40,341.20 L122.25,341.00 L122.08,340.80 L121.90,340.60 L121.71,340.40 L121.50,340.20 L121.28,340.00 L121.04,339.80 L120.80,339.61 L120.60,339.46 L120.40,339.32 L120.20,339.18 L119.92,339.00 L119.60,338.80 L119.40,338.69 L119.20,338.58 L118.87,338.40 L118.60,338.27 L118.40,338.17 L118.03,338.00 L117.80,337.90 L117.56,337.80 L117.20,337.66 L117.00,337.58 L116.60,337.44 L116.40,337.37 L116.00,337.24 L115.80,337.17 L115.40,337.05 L115.20,337.00 L114.80,336.89 L114.45,336.80 L114.20,336.74 L113.80,336.65 L113.58,336.60 L113.20,336.52 L112.80,336.45 L112.53,336.40 L112.20,336.35 L111.80,336.29 L111.40,336.23 L111.13,336.20 L110.80,336.16 L110.40,336.12 L110.00,336.08 L109.60,336.04 L109.20,336.00 L109.00,335.98 L108.60,335.93 L108.20,335.88 L107.80,335.81 L107.60,335.77 L107.20,335.69 L106.83,335.60 L106.60,335.54 L106.20,335.41 L106.00,335.34 L105.61,335.20 L105.40,335.12 L105.11,335.00 L104.80,334.87 L104.60,334.79 L104.20,334.62 L104.00,334.54 L103.67,334.40 L103.40,334.29 L103.18,334.20 L102.80,334.05 L102.60,333.97 L102.20,333.82 L102.00,333.74 L101.61,333.60 L101.40,333.52 L101.04,333.40 L100.80,333.32 L100.43,333.20 L100.20,333.13 L99.80,333.00 L99.60,332.95 L99.20,332.83 L99.00,332.78 L98.60,332.67 L98.33,332.60 L98.00,332.52 L97.60,332.42 L97.40,332.37 L97.00,332.28 L96.60,332.20 L96.40,332.16 L96.00,332.08 L95.60,332.00 L95.40,331.97 L95.00,331.90 L94.60,331.83 L94.40,331.80 L94.00,331.74 L93.60,331.68 L93.20,331.62 L93.00,331.59 L92.60,331.54 L92.20,331.49 L91.80,331.45 L91.40,331.40 L91.20,331.38 L90.80,331.34 L90.40,331.30 L90.00,331.27 L89.60,331.23 L89.20,331.20 L89.00,331.19 L88.60,331.16 L88.20,331.14 L87.80,331.11 L87.40,331.09 L87.00,331.07 L86.60,331.06 L86.20,331.04 L85.80,331.03 L85.40,331.02 L85.00,331.01 L84.60,331.01 L84.20,331.00 L84.00,331.00 L83.60,331.00 L83.20,331.00 L82.87,331.00 L82.60,331.00 L82.20,331.01 L81.80,331.01 L81.40,331.02 L81.00,331.03 L80.60,331.04 L80.20,331.05 L79.80,331.07 L79.40,331.09 L79.00,331.10 L78.60,331.12 L78.20,331.14 L77.80,331.17 L77.40,331.19 L77.20,331.21 L76.80,331.23 L76.40,331.26 L76.00,331.30 L75.60,331.33 L75.20,331.37 L74.83,331.40 L74.60,331.42 L74.20,331.46 L73.80,331.51 L73.40,331.55 L73.00,331.60 L72.80,331.62 L72.40,331.68 L72.00,331.73 L71.60,331.79 L71.40,331.81 L71.00,331.87 L70.60,331.94 L70.22,332.00 L70.00,332.04 L69.60,332.11 L69.20,332.18 L69.00,332.22 L68.60,332.30 L68.20,332.38 L68.00,332.43 L67.60,332.51 L67.24,332.60 L67.00,332.66 L66.60,332.76 L66.40,332.81 L66.00,332.92 L65.73,333.00 L65.40,333.10 L65.10,333.20 L64.80,333.30 L64.52,333.40 L64.20,333.52 L64.00,333.60 L63.60,333.78 L63.40,333.87 L63.14,334.00 L62.80,334.18 L62.60,334.30 L62.40,334.43 L62.17,334.60 L61.92,334.80 L61.71,335.00 L61.54,335.20 L61.39,335.40 L61.20,335.74 L61.09,336.00 L61.00,336.40 L60.98,336.60 L60.92,337.00 L60.80,337.40 L60.72,337.60 L60.60,337.84 L60.40,338.16 L60.23,338.40 L60.07,338.60 L59.87,338.80 L59.60,338.99 L59.40,339.05 L59.05,339.00 L58.80,338.87 L58.60,338.72 L58.40,338.54 L58.20,338.35 L58.00,338.14 L57.80,337.93 L57.60,337.71 L57.40,337.50 L57.20,337.30 L57.00,337.10 L56.80,336.90 L56.60,336.72 L56.40,336.53 L56.20,336.36 L56.00,336.18 L55.78,336.00 L55.53,335.80 L55.27,335.60 L55.00,335.40 L54.80,335.26 L54.60,335.12 L54.40,334.99 L54.10,334.80 L53.80,334.62 L53.60,334.51 L53.40,334.40 L53.01,334.20 L52.80,334.10 L52.58,334.00 L52.20,333.84 L52.00,333.76 L51.60,333.61 L51.40,333.54 L51.00,333.42 L50.80,333.37 L50.40,333.27 L50.07,333.20 L49.80,333.15 L49.40,333.09 L49.00,333.05 L48.60,333.02 L48.20,333.00 L48.00,333.00 L47.80,333.00 L47.40,333.02 L47.00,333.06 L46.60,333.12 L46.21,333.20 L46.00,333.25 L45.60,333.36 L45.40,333.42 L45.00,333.57 L44.80,333.65 L44.45,333.80 L44.20,333.92 L44.00,334.02 L43.67,334.20 L43.40,334.36 L43.20,334.48 L43.00,334.62 L42.73,334.80 L42.46,335.00 L42.21,335.20 L42.00,335.37 L41.80,335.54 L41.60,335.72 L41.40,335.91 L41.20,336.10 L41.00,336.30 L40.80,336.52 L40.60,336.73 L40.40,336.96 L40.20,337.20 L40.04,337.40 L39.88,337.60 L39.73,337.80 L39.58,338.00 L39.40,338.25 L39.20,338.54 L39.03,338.80 L38.90,339.00 L38.78,339.20 L38.60,339.49 L38.42,339.80 L38.31,340.00 L38.20,340.20 L38.00,340.58 L37.89,340.80 L37.79,341.00 L37.60,341.40 L37.51,341.60 L37.40,341.84 L37.25,342.20 L37.16,342.40 L37.00,342.80 L36.93,343.00 L36.80,343.34 L36.71,343.60 L36.60,343.91 L36.50,344.20 L36.40,344.52 L36.31,344.80 L36.20,345.19 L36.14,345.40 L36.03,345.80 L35.98,346.00 L35.88,346.40 L35.80,346.75 L35.74,347.00 L35.66,347.40 L35.60,347.69 L35.54,348.00 L35.47,348.40 L35.40,348.80 L35.37,349.00 L35.32,349.40 L35.26,349.80 L35.21,350.20 L35.19,350.40 L35.15,350.80 L35.12,351.20 L35.09,351.60 L35.06,352.00 L35.04,352.40 L35.02,352.80 L35.01,353.20 L35.00,353.60 L35.00,354.00 L35.00,354.40 L35.01,354.80 L35.02,355.20 L35.03,355.60 L35.05,356.00 L35.07,356.40 L35.09,356.80 L35.12,357.20 L35.15,357.60 L35.19,358.00 L35.21,358.20 L35.25,358.60 L35.30,359.00 L35.35,359.40 L35.40,359.78 L35.43,360.00 L35.49,360.40 L35.56,360.80 L35.60,361.06 L35.66,361.40 L35.74,361.80 L35.80,362.12 L35.86,362.40 L35.95,362.80 L36.00,363.04 L36.09,363.40 L36.18,363.80 L36.24,364.00 L36.34,364.40 L36.40,364.61 L36.51,365.00 L36.60,365.29 L36.69,365.60 L36.80,365.93 L36.89,366.20 L37.00,366.52 L37.10,366.80 L37.20,367.08 L37.32,367.40 L37.40,367.60 L37.56,368.00 L37.64,368.20 L37.80,368.57 L37.90,368.80 L38.00,369.02 L38.18,369.40 L38.28,369.60 L38.40,369.85 L38.58,370.20 L38.69,370.40 L38.80,370.60 L39.00,370.96 L39.14,371.20 L39.26,371.40 L39.40,371.62 L39.60,371.94 L39.78,372.20 L39.91,372.40 L40.05,372.60 L40.20,372.80 L40.40,373.07 L40.60,373.32 L40.80,373.57 L41.00,373.80 L41.17,374.00 L41.36,374.20 L41.55,374.40 L41.74,374.60 L41.95,374.80 L42.17,375.00 L42.39,375.20 L42.60,375.38 L42.80,375.54 L43.00,375.69 L43.20,375.84 L43.43,376.00 L43.74,376.20 L44.00,376.36 L44.20,376.47 L44.44,376.60 L44.80,376.78 L45.00,376.87 L45.33,377.00 L45.60,377.10 L45.93,377.20 L46.20,377.28 L46.60,377.37 L46.80,377.40 L47.20,377.46 L47.60,377.50 L48.00,377.51 L48.40,377.50 L48.80,377.48 L49.20,377.45 L49.60,377.40 L49.80,377.37 L50.20,377.30 L50.60,377.23 L50.80,377.18 L51.20,377.10 L51.60,377.01 L51.80,376.97 L52.20,376.91 L52.60,376.88 L53.00,376.91 L53.29,377.00 L53.60,377.16 L53.80,377.30 L54.00,377.48 L54.20,377.68 L54.40,377.90 L54.60,378.14 L54.80,378.37 L55.00,378.60 L55.18,378.80 L55.36,379.00 L55.55,379.20 L55.75,379.40 L55.96,379.60 L56.17,379.80 L56.40,380.00 L56.60,380.17 L56.80,380.34 L57.00,380.50 L57.20,380.66 L57.40,380.83 L57.60,381.00 L57.81,381.20 L58.00,381.41 L58.20,381.74 L58.29,382.00 L58.31,382.40 L58.25,382.80 L58.20,383.05 L58.12,383.40 L58.04,383.80 L58.00,384.01 L57.95,384.40 L57.94,384.80 L57.95,385.20 L58.00,385.52 L58.06,385.80 L58.18,386.20 L58.26,386.40 L58.40,386.70 L58.56,387.00 L58.68,387.20 L58.82,387.40 L59.00,387.64 L59.20,387.88 L59.40,388.10 L59.60,388.31 L59.80,388.50 L60.00,388.68 L60.20,388.85 L60.40,389.01 L60.64,389.20 L60.92,389.40 L61.20,389.59 L61.40,389.72 L61.60,389.85 L61.85,390.00 L62.20,390.20 L62.40,390.31 L62.60,390.42 L62.96,390.60 L63.20,390.72 L63.40,390.81 L63.80,391.00 L64.00,391.09 L64.27,391.20 L64.60,391.34 L64.80,391.42 L65.20,391.57 L65.40,391.64 L65.80,391.79 L66.00,391.86 L66.40,391.99 L66.60,392.06 L67.00,392.18 L67.20,392.24 L67.60,392.36 L67.80,392.42 L68.20,392.53 L68.48,392.60 L68.80,392.68 L69.20,392.78 L69.40,392.83 L69.80,392.92 L70.15,393.00 L70.40,393.05 L70.80,393.14 L71.12,393.20 L71.40,393.25 L71.80,393.33 L72.20,393.40 L72.40,393.43 L72.80,393.50 L73.20,393.56 L73.48,393.60 L73.80,393.65 L74.20,393.70 L74.60,393.75 L75.00,393.80 L75.20,393.82 L75.60,393.87 L76.00,393.91 L76.40,393.95 L76.80,393.98 L77.02,394.00 L77.40,394.03 L77.80,394.06 L78.20,394.08 L78.60,394.11 L79.00,394.13 L79.40,394.15 L79.80,394.16 L80.20,394.17 L80.60,394.18 L81.00,394.19 L81.40,394.20 L81.80,394.20 L82.20,394.20 L82.60,394.20 L83.00,394.19 L83.40,394.19 L83.80,394.18 L84.20,394.17 L84.60,394.15 L85.00,394.14 L85.40,394.12 L85.80,394.10 L86.20,394.08 L86.60,394.05 L87.00,394.03 L87.39,394.00 L87.39,394.00"/><path d="M70.60,376.81 L70.20,376.86 L69.80,376.89 L69.40,376.91 L69.00,376.89 L68.64,376.80 L68.40,376.66 L68.21,376.40 L68.14,376.20 L68.08,375.80 L68.06,375.40 L68.06,375.00 L68.07,374.60 L68.06,374.20 L68.04,373.80 L68.01,373.40 L67.98,373.20 L67.92,372.80 L67.84,372.40 L67.79,372.20 L67.68,371.80 L67.60,371.55 L67.47,371.20 L67.39,371.00 L67.20,370.60 L67.10,370.40 L66.99,370.20 L66.80,369.89 L66.60,369.60 L66.45,369.40 L66.30,369.20 L66.13,369.00 L65.94,368.80 L65.75,368.60 L65.53,368.40 L65.30,368.20 L65.05,368.00 L64.80,367.82 L64.60,367.68 L64.40,367.55 L64.14,367.40 L63.80,367.21 L63.60,367.11 L63.38,367.00 L63.00,366.82 L62.80,366.72 L62.55,366.60 L62.20,366.40 L62.00,366.24 L61.80,366.03 L61.67,365.80 L61.60,365.58 L61.56,365.20 L61.58,364.80 L61.60,364.60 L61.67,364.20 L61.76,363.80 L61.81,363.60 L61.91,363.20 L62.00,362.89 L62.09,362.60 L62.20,362.30 L62.34,362.00 L62.46,361.80 L62.64,361.60 L63.00,361.49 L63.34,361.60 L63.60,361.76 L63.80,361.90 L64.00,362.07 L64.20,362.24 L64.40,362.42 L64.60,362.61 L64.80,362.80 L65.01,363.00 L65.22,363.20 L65.43,363.40 L65.64,363.60 L65.86,363.80 L66.08,364.00 L66.30,364.20 L66.52,364.40 L66.75,364.60 L66.98,364.80 L67.20,364.99 L67.40,365.17 L67.60,365.34 L67.80,365.50 L68.00,365.66 L68.20,365.82 L68.42,366.00 L68.67,366.20 L68.93,366.40 L69.19,366.60 L69.40,366.76 L69.60,366.91 L69.80,367.06 L70.00,367.20 L70.27,367.40 L70.55,367.60 L70.80,367.78 L71.00,367.92 L71.20,368.06 L71.41,368.20 L71.70,368.40 L72.00,368.60 L72.20,368.74 L72.40,368.87 L72.60,369.00 L72.90,369.20 L73.20,369.39 L73.40,369.52 L73.60,369.65 L73.84,369.80 L74.17,370.00 L74.40,370.15 L74.60,370.27 L74.82,370.40 L75.15,370.60 L75.40,370.75 L75.60,370.87 L75.83,371.00 L76.17,371.20 L76.40,371.34 L76.60,371.45 L76.86,371.60 L77.20,371.79 L77.40,371.91 L77.60,372.01 L77.94,372.20 L78.20,372.35 L78.40,372.46 L78.66,372.60 L79.00,372.79 L79.20,372.90 L79.40,373.00 L79.76,373.20 L80.00,373.34 L80.20,373.44 L80.48,373.60 L80.80,373.78 L81.00,373.90 L81.20,374.01 L81.51,374.20 L81.80,374.39 L82.00,374.53 L82.20,374.70 L82.40,374.91 L82.49,375.20 L82.25,375.40 L82.00,375.48 L81.60,375.57 L81.40,375.61 L81.00,375.66 L80.60,375.70 L80.20,375.73 L79.80,375.77 L79.40,375.80 L79.20,375.81 L78.80,375.84 L78.40,375.87 L78.00,375.91 L77.60,375.94 L77.20,375.97 L76.88,376.00 L76.60,376.03 L76.20,376.06 L75.80,376.11 L75.40,376.15 L75.00,376.19 L74.80,376.22 L74.40,376.27 L74.00,376.32 L73.60,376.37 L73.40,376.40 L73.00,376.46 L72.60,376.52 L72.20,376.58 L72.00,376.61 L71.60,376.67 L71.20,376.73 L70.80,376.78 L70.60,376.81 L70.60,376.81"/><path d="M87.50,396.60 L87.80,396.58 L88.20,396.55 L88.60,396.51 L89.00,396.47 L89.40,396.44 L89.74,396.40 L90.00,396.37 L90.40,396.33 L90.80,396.28 L91.20,396.23 L91.44,396.20 L91.80,396.15 L92.20,396.10 L92.60,396.04 L92.86,396.00 L93.20,395.95 L93.60,395.88 L94.00,395.81 L94.20,395.78 L94.60,395.71 L95.00,395.63 L95.20,395.60 L95.60,395.52 L96.00,395.44 L96.20,395.39 L96.60,395.31 L97.00,395.22 L97.20,395.17 L97.60,395.08 L97.93,395.00 L98.20,394.93 L98.60,394.83 L98.80,394.78 L99.20,394.67 L99.44,394.60 L99.80,394.50 L100.13,394.40 L100.40,394.32 L100.79,394.20 L101.00,394.13 L101.40,394.00 L101.60,393.93 L101.99,393.80 L102.20,393.72 L102.54,393.60 L102.80,393.50 L103.07,393.40 L103.40,393.27 L103.60,393.19 L104.00,393.02 L104.20,392.94 L104.51,392.80 L104.80,392.67 L105.00,392.58 L105.37,392.40 L105.60,392.28 L105.80,392.18 L106.15,392.00 L106.40,391.87 L106.60,391.75 L106.87,391.60 L107.20,391.40 L107.40,391.28 L107.60,391.15 L107.83,391.00 L108.13,390.80 L108.40,390.60 L108.60,390.46 L108.80,390.30 L109.00,390.14 L109.20,389.98 L109.41,389.80 L109.63,389.60 L109.84,389.40 L110.04,389.20 L110.22,389.00 L110.40,388.80 L110.60,388.56 L110.80,388.30 L111.00,388.02 L111.14,387.80 L111.26,387.60 L111.40,387.35 L111.57,387.00 L111.65,386.80 L111.79,386.40 L111.84,386.20 L111.93,385.80 L111.98,385.40 L112.00,385.00 L111.98,384.60 L111.93,384.20 L111.84,383.80 L111.79,383.60 L111.65,383.20 L111.57,383.00 L111.40,382.65 L111.26,382.40 L111.14,382.20 L111.00,381.98 L110.80,381.70 L110.60,381.44 L110.40,381.20 L110.22,381.00 L110.04,380.80 L109.84,380.60 L109.63,380.40 L109.41,380.20 L109.20,380.02 L109.00,379.86 L108.80,379.70 L108.60,379.54 L108.40,379.40 L108.13,379.20 L107.83,379.00 L107.60,378.85 L107.40,378.72 L107.20,378.60 L106.87,378.40 L106.60,378.25 L106.40,378.13 L106.15,378.00 L105.80,377.82 L105.60,377.72 L105.37,377.60 L105.00,377.42 L104.80,377.33 L104.51,377.20 L104.20,377.06 L104.00,376.98 L103.60,376.81 L103.40,376.73 L103.07,376.60 L102.80,376.50 L102.54,376.40 L102.20,376.28 L101.99,376.20 L101.60,376.07 L101.40,376.00 L101.00,375.87 L100.79,375.80 L100.40,375.68 L100.14,375.60 L99.80,375.50 L99.46,375.40 L99.20,375.33 L98.80,375.22 L98.60,375.16 L98.20,375.06 L97.99,375.00 L97.60,374.90 L97.21,374.80 L97.00,374.74 L96.60,374.64 L96.40,374.58 L96.00,374.47 L95.77,374.40 L95.40,374.27 L95.20,374.19 L94.85,374.00 L94.65,373.80 L94.59,373.60 L94.64,373.40 L94.80,373.15 L95.00,372.94 L95.20,372.75 L95.40,372.58 L95.64,372.40 L95.91,372.20 L96.18,372.00 L96.40,371.85 L96.60,371.71 L96.80,371.57 L97.05,371.40 L97.34,371.20 L97.60,371.03 L97.80,370.89 L98.00,370.75 L98.22,370.60 L98.51,370.40 L98.80,370.20 L99.00,370.06 L99.20,369.92 L99.40,369.77 L99.64,369.60 L99.92,369.40 L100.19,369.20 L100.40,369.05 L100.60,368.90 L100.80,368.75 L101.00,368.60 L101.26,368.40 L101.52,368.20 L101.77,368.00 L102.00,367.82 L102.20,367.66 L102.40,367.50 L102.60,367.34 L102.80,367.17 L103.01,367.00 L103.25,366.80 L103.48,366.60 L103.71,366.40 L103.94,366.20 L104.17,366.00 L104.40,365.80 L104.60,365.62 L104.80,365.43 L105.00,365.25 L105.20,365.06 L105.40,364.87 L105.60,364.68 L105.80,364.49 L106.00,364.29 L106.20,364.09 L106.40,363.89 L106.60,363.68 L106.80,363.48 L107.00,363.27 L107.20,363.06 L107.40,362.84 L107.60,362.63 L107.80,362.41 L107.99,362.20 L108.16,362.00 L108.34,361.80 L108.52,361.60 L108.69,361.40 L108.87,361.20 L109.04,361.00 L109.21,360.80 L109.40,360.58 L109.60,360.35 L109.80,360.13 L110.00,359.90 L110.20,359.69 L110.40,359.48 L110.60,359.28 L110.80,359.08 L111.00,358.90 L111.20,358.74 L111.40,358.58 L111.65,358.40 L111.97,358.20 L112.20,358.07 L112.40,357.97 L112.76,357.80 L113.00,357.70 L113.25,357.60 L113.60,357.47 L113.80,357.40 L114.20,357.26 L114.40,357.19 L114.80,357.05 L115.00,356.98 L115.40,356.84 L115.60,356.77 L116.00,356.62 L116.20,356.54 L116.55,356.40 L116.80,356.30 L117.03,356.20 L117.40,356.04 L117.60,355.95 L117.91,355.80 L118.20,355.66 L118.40,355.56 L118.70,355.40 L119.00,355.24 L119.20,355.12 L119.42,355.00 L119.75,354.80 L120.00,354.65 L120.20,354.52 L120.40,354.39 L120.68,354.20 L120.96,354.00 L121.20,353.83 L121.40,353.68 L121.60,353.52 L121.80,353.36 L122.00,353.20 L122.23,353.00 L122.46,352.80 L122.68,352.60 L122.89,352.40 L123.09,352.20 L123.29,352.00 L123.48,351.80 L123.66,351.60 L123.84,351.40 L124.01,351.20 L124.20,350.97 L124.40,350.71 L124.60,350.44 L124.77,350.20 L124.90,350.00 L125.03,349.80 L125.20,349.53 L125.39,349.20 L125.50,349.00 L125.61,348.80 L125.80,348.41 L125.89,348.20 L126.00,347.95 L126.14,347.60 L126.21,347.40 L126.34,347.00 L126.40,346.80 L126.51,346.40 L126.60,346.00 L126.64,345.80 L126.70,345.40 L126.75,345.00 L126.78,344.60 L126.80,344.20 L126.80,344.00 L126.80,343.80 L126.76,343.40 L126.70,343.00 L126.60,342.61 L126.53,342.40 L126.40,342.04 L126.29,341.80 L126.20,341.60 L126.00,341.24 L125.85,341.00 L125.71,340.80 L125.57,340.60 L125.40,340.38 L125.20,340.15 L125.00,339.92 L124.80,339.71 L124.60,339.52 L124.40,339.33 L124.20,339.15 L124.00,338.98 L123.77,338.80 L123.51,338.60 L123.23,338.40 L123.00,338.24 L122.80,338.11 L122.60,337.98 L122.31,337.80 L122.00,337.62 L121.80,337.51 L121.60,337.40 L121.23,337.20 L121.00,337.09 L120.80,336.99 L120.41,336.80 L120.20,336.70 L119.97,336.60 L119.60,336.43 L119.40,336.35 L119.06,336.20 L118.80,336.08 L118.60,336.00 L118.20,335.81 L118.00,335.71 L117.79,335.60 L117.47,335.40 L117.24,335.20 L117.11,335.00 L117.12,334.60 L117.21,334.40 L117.40,334.12 L117.60,333.87 L117.80,333.63 L118.00,333.40 L118.17,333.20 L118.34,333.00 L118.50,332.80 L118.66,332.60 L118.81,332.40 L119.00,332.15 L119.20,331.87 L119.38,331.60 L119.51,331.40 L119.64,331.20 L119.80,330.94 L120.00,330.60 L120.11,330.40 L120.22,330.20 L120.40,329.86 L120.53,329.60 L120.63,329.40 L120.80,329.03 L120.90,328.80 L121.00,328.57 L121.15,328.20 L121.23,328.00 L121.38,327.60 L121.45,327.40 L121.59,327.00 L121.66,326.80 L121.79,326.40 L121.85,326.20 L121.96,325.80 L122.02,325.60 L122.12,325.20 L122.20,324.89 L122.27,324.60 L122.36,324.20 L122.40,324.00 L122.48,323.60 L122.55,323.20 L122.60,322.92 L122.65,322.60 L122.71,322.20 L122.76,321.80 L122.80,321.50 L122.83,321.20 L122.87,320.80 L122.91,320.40 L122.94,320.00 L122.96,319.60 L122.98,319.20 L122.99,318.80 L123.00,318.40 L123.00,318.20 L123.00,317.80 L123.00,317.60 L122.99,317.20 L122.98,316.80 L122.96,316.40 L122.94,316.00 L122.91,315.60 L122.88,315.20 L122.84,314.80 L122.80,314.45 L122.77,314.20 L122.72,313.80 L122.66,313.40 L122.60,313.00 L122.57,312.80 L122.50,312.40 L122.43,312.00 L122.39,311.80 L122.31,311.40 L122.23,311.00 L122.19,310.80 L122.10,310.40 L122.01,310.00 L121.97,309.80 L121.88,309.40 L121.80,309.03 L121.75,308.80 L121.67,308.40 L121.60,308.00 L121.57,307.80 L121.52,307.40 L121.49,307.00 L121.47,306.60 L121.47,306.20 L121.50,305.80 L121.54,305.40 L121.60,305.00 L121.64,304.80 L121.72,304.40 L121.80,304.03 L121.85,303.80 L121.95,303.40 L122.01,303.20 L122.11,302.80 L122.20,302.46 L122.27,302.20 L122.37,301.80 L122.42,301.60 L122.52,301.20 L122.60,300.89 L122.67,300.60 L122.76,300.20 L122.81,300.00 L122.89,299.60 L122.98,299.20 L123.02,299.00 L123.09,298.60 L123.17,298.20 L123.20,298.00 L123.27,297.60 L123.33,297.20 L123.39,296.80 L123.42,296.60 L123.47,296.20 L123.52,295.80 L123.57,295.40 L123.60,295.07 L123.63,294.80 L123.66,294.40 L123.69,294.00 L123.72,293.60 L123.74,293.20 L123.76,292.80 L123.78,292.40 L123.79,292.00 L123.80,291.60 L123.80,291.20 L123.80,291.00 L123.80,290.80 L123.79,290.40 L123.77,290.00 L123.74,289.60 L123.69,289.20 L123.64,288.80 L123.60,288.54 L123.54,288.20 L123.46,287.80 L123.40,287.54 L123.32,287.20 L123.21,286.80 L123.15,286.60 L123.02,286.20 L122.95,286.00 L122.80,285.61 L122.72,285.40 L122.60,285.13 L122.45,284.80 L122.35,284.60 L122.20,284.30 L122.04,284.00 L121.93,283.80 L121.80,283.59 L121.60,283.27 L121.42,283.00 L121.28,282.80 L121.13,282.60 L120.98,282.40 L120.80,282.18 L120.60,281.94 L120.40,281.71 L120.20,281.50 L120.00,281.30 L119.80,281.11 L119.60,280.92 L119.40,280.75 L119.20,280.58 L118.98,280.40 L118.71,280.20 L118.43,280.00 L118.20,279.85 L118.00,279.72 L117.80,279.60 L117.45,279.40 L117.20,279.26 L117.00,279.16 L116.65,279.00 L116.40,278.89 L116.19,278.80 L115.80,278.65 L115.60,278.58 L115.20,278.45 L115.00,278.39 L114.60,278.27 L114.30,278.20 L114.00,278.13 L113.60,278.05 L113.33,278.00 L113.00,277.95 L112.60,277.89 L112.20,277.84 L111.80,277.80 L111.60,277.78 L111.20,277.76 L110.80,277.74 L110.40,277.72 L110.00,277.71 L109.60,277.70 L109.20,277.70 L108.80,277.70 L108.40,277.70 L108.00,277.70 L107.60,277.71 L107.20,277.72 L106.80,277.74 L106.40,277.76 L106.00,277.78 L105.80,277.80 L105.40,277.84 L105.00,277.89 L104.60,277.95 L104.27,278.00 L104.00,278.05 L103.60,278.13 L103.30,278.20 L103.00,278.27 L102.60,278.39 L102.40,278.45 L102.00,278.58 L101.80,278.65 L101.41,278.80 L101.20,278.89 L100.95,279.00 L100.60,279.16 L100.40,279.26 L100.15,279.40 L99.80,279.60 L99.60,279.72 L99.40,279.85 L99.17,280.00 L98.89,280.20 L98.62,280.40 L98.40,280.58 L98.20,280.75 L98.00,280.92 L97.80,281.11 L97.60,281.30 L97.40,281.50 L97.20,281.71 L97.00,281.94 L96.80,282.18 L96.62,282.40 L96.47,282.60 L96.32,282.80 L96.18,283.00 L96.00,283.27 L95.80,283.59 L95.67,283.80 L95.56,284.00 L95.40,284.30 L95.25,284.60 L95.15,284.80 L95.00,285.13 L94.88,285.40 L94.80,285.61 L94.65,286.00 L94.58,286.20 L94.45,286.60 L94.39,286.80 L94.28,287.20 L94.20,287.54 L94.14,287.80 L94.06,288.20 L94.00,288.54 L93.96,288.80 L93.91,289.20 L93.86,289.60 L93.83,290.00 L93.81,290.40 L93.80,290.80 L93.80,291.00 L93.80,291.20 L93.80,291.60 L93.81,292.00 L93.82,292.40 L93.84,292.80 L93.86,293.20 L93.88,293.60 L93.91,294.00 L93.94,294.40 L93.97,294.80 L94.00,295.07 L94.03,295.40 L94.08,295.80 L94.13,296.20 L94.18,296.60 L94.21,296.80 L94.27,297.20 L94.33,297.60 L94.40,298.00 L94.44,298.20 L94.51,298.60 L94.59,299.00 L94.63,299.20 L94.72,299.60 L94.80,299.98 L94.85,300.20 L94.95,300.60 L95.00,300.80 L95.11,301.20 L95.20,301.55 L95.27,301.80 L95.39,302.20 L95.45,302.40 L95.58,302.80 L95.64,303.00 L95.77,303.40 L95.84,303.60 L95.99,304.00 L96.06,304.20 L96.20,304.57 L96.29,304.80 L96.40,305.07 L96.54,305.40 L96.62,305.60 L96.80,306.00 L96.89,306.20 L97.00,306.44 L97.17,306.80 L97.27,307.00 L97.40,307.26 L97.58,307.60 L97.68,307.80 L97.80,308.01 L98.00,308.37 L98.13,308.60 L98.25,308.80 L98.40,309.04 L98.60,309.36 L98.75,309.60 L98.88,309.80 L99.02,310.00 L99.20,310.27 L99.40,310.56 L99.57,310.80 L99.72,311.00 L99.87,311.20 L100.01,311.40 L100.20,311.65 L100.40,311.91 L100.60,312.18 L100.76,312.40 L100.91,312.60 L101.05,312.80 L101.20,313.01 L101.40,313.32 L101.57,313.60 L101.68,313.80 L101.80,314.05 L101.95,314.40 L102.02,314.60 L102.14,315.00 L102.20,315.26 L102.26,315.60 L102.32,316.00 L102.36,316.40 L102.38,316.80 L102.40,317.07 L102.42,317.40 L102.43,317.80 L102.45,318.20 L102.47,318.60 L102.48,319.00 L102.50,319.40 L102.53,319.80 L102.55,320.20 L102.59,320.60 L102.60,320.80 L102.64,321.20 L102.68,321.60 L102.73,322.00 L102.77,322.40 L102.80,322.60 L102.86,323.00 L102.92,323.40 L102.98,323.80 L103.02,324.00 L103.09,324.40 L103.16,324.80 L103.20,325.00 L103.28,325.40 L103.36,325.80 L103.40,326.00 L103.49,326.40 L103.57,326.80 L103.61,327.00 L103.70,327.40 L103.77,327.80 L103.81,328.00 L103.87,328.40 L103.90,328.80 L103.87,329.20 L103.80,329.43 L103.60,329.62 L103.20,329.68 L102.80,329.63 L102.60,329.58 L102.20,329.46 L102.00,329.40 L101.60,329.26 L101.40,329.19 L101.00,329.04 L100.80,328.97 L100.40,328.83 L100.20,328.75 L99.80,328.61 L99.60,328.54 L99.20,328.40 L99.00,328.34 L98.60,328.21 L98.40,328.14 L98.00,328.02 L97.80,327.96 L97.40,327.84 L97.20,327.78 L96.80,327.67 L96.54,327.60 L96.20,327.51 L95.80,327.41 L95.60,327.36 L95.20,327.27 L94.90,327.20 L94.60,327.13 L94.20,327.05 L93.96,327.00 L93.60,326.93 L93.20,326.85 L92.91,326.80 L92.60,326.75 L92.20,326.68 L91.80,326.62 L91.60,326.59 L91.20,326.53 L90.80,326.47 L90.40,326.42 L90.20,326.40 L89.80,326.35 L89.40,326.31 L89.00,326.27 L88.60,326.23 L88.27,326.20 L88.00,326.18 L87.60,326.15 L87.20,326.12 L86.80,326.09 L86.40,326.07 L86.00,326.05 L85.60,326.04 L85.20,326.03 L84.80,326.01 L84.40,326.01 L84.00,326.00 L83.60,326.00 L83.20,326.00 L82.80,326.00 L82.40,326.01 L82.00,326.02 L81.60,326.03 L81.20,326.04 L80.80,326.05 L80.40,326.07 L80.00,326.09 L79.60,326.11 L79.20,326.14 L78.80,326.16 L78.40,326.19 L78.20,326.21 L77.80,326.24 L77.40,326.28 L77.00,326.32 L76.60,326.36 L76.22,326.40 L76.00,326.43 L75.60,326.47 L75.20,326.52 L74.80,326.58 L74.60,326.60 L74.20,326.66 L73.80,326.72 L73.40,326.79 L73.20,326.82 L72.80,326.89 L72.40,326.96 L72.17,327.00 L71.80,327.07 L71.40,327.15 L71.15,327.20 L70.80,327.27 L70.40,327.36 L70.20,327.41 L69.80,327.50 L69.40,327.60 L69.20,327.65 L68.80,327.75 L68.60,327.80 L68.20,327.91 L67.90,328.00 L67.60,328.09 L67.23,328.20 L67.00,328.27 L66.60,328.40 L66.40,328.47 L66.01,328.60 L65.80,328.67 L65.46,328.80 L65.20,328.90 L64.93,329.00 L64.60,329.13 L64.40,329.21 L64.00,329.38 L63.80,329.47 L63.52,329.60 L63.20,329.75 L63.00,329.84 L62.69,330.00 L62.40,330.15 L62.20,330.25 L61.94,330.40 L61.60,330.59 L61.40,330.71 L61.20,330.83 L60.93,331.00 L60.61,331.20 L60.40,331.34 L60.20,331.48 L60.00,331.61 L59.73,331.80 L59.44,332.00 L59.20,332.16 L59.00,332.29 L58.80,332.41 L58.41,332.60 L58.20,332.68 L57.80,332.77 L57.40,332.76 L57.00,332.68 L56.75,332.60 L56.40,332.46 L56.20,332.37 L55.86,332.20 L55.60,332.07 L55.40,331.96 L55.09,331.80 L54.80,331.65 L54.60,331.55 L54.30,331.40 L54.00,331.25 L53.80,331.16 L53.44,331.00 L53.20,330.89 L52.97,330.80 L52.60,330.66 L52.40,330.58 L52.00,330.45 L51.80,330.38 L51.40,330.27 L51.15,330.20 L50.80,330.11 L50.40,330.03 L50.20,329.99 L49.80,329.93 L49.40,329.88 L49.00,329.84 L48.60,329.81 L48.20,329.80 L48.00,329.80 L47.80,329.80 L47.40,329.82 L47.00,329.85 L46.60,329.90 L46.20,329.97 L46.00,330.02 L45.60,330.11 L45.28,330.20 L45.00,330.29 L44.68,330.40 L44.40,330.51 L44.18,330.60 L43.80,330.77 L43.60,330.86 L43.34,331.00 L43.00,331.18 L42.80,331.30 L42.60,331.42 L42.32,331.60 L42.03,331.80 L41.80,331.96 L41.60,332.11 L41.40,332.27 L41.20,332.43 L41.00,332.60 L40.77,332.80 L40.55,333.00 L40.33,333.20 L40.13,333.40 L39.93,333.60 L39.74,333.80 L39.56,334.00 L39.38,334.20 L39.20,334.40 L39.00,334.64 L38.80,334.89 L38.60,335.14 L38.40,335.40 L38.26,335.60 L38.11,335.80 L37.97,336.00 L37.80,336.26 L37.60,336.56 L37.45,336.80 L37.32,337.00 L37.20,337.21 L37.00,337.55 L36.86,337.80 L36.75,338.00 L36.60,338.27 L36.43,338.60 L36.33,338.80 L36.20,339.06 L36.04,339.40 L35.94,339.60 L35.80,339.92 L35.68,340.20 L35.59,340.40 L35.43,340.80 L35.35,341.00 L35.20,341.38 L35.12,341.60 L35.00,341.93 L34.90,342.20 L34.80,342.51 L34.70,342.80 L34.60,343.12 L34.52,343.40 L34.40,343.79 L34.34,344.00 L34.23,344.40 L34.18,344.60 L34.08,345.00 L34.00,345.31 L33.93,345.60 L33.84,346.00 L33.80,346.20 L33.72,346.60 L33.64,347.00 L33.60,347.22 L33.53,347.60 L33.47,348.00 L33.41,348.40 L33.38,348.60 L33.32,349.00 L33.27,349.40 L33.23,349.80 L33.20,350.06 L33.17,350.40 L33.13,350.80 L33.10,351.20 L33.07,351.60 L33.05,352.00 L33.03,352.40 L33.02,352.80 L33.01,353.20 L33.00,353.60 L33.00,354.00 L33.00,354.40 L33.01,354.80 L33.01,355.20 L33.03,355.60 L33.04,356.00 L33.06,356.40 L33.08,356.80 L33.11,357.20 L33.13,357.60 L33.17,358.00 L33.20,358.39 L33.22,358.60 L33.26,359.00 L33.30,359.40 L33.35,359.80 L33.40,360.19 L33.43,360.40 L33.48,360.80 L33.54,361.20 L33.60,361.56 L33.64,361.80 L33.71,362.20 L33.78,362.60 L33.82,362.80 L33.90,363.20 L33.98,363.60 L34.02,363.80 L34.11,364.20 L34.20,364.58 L34.25,364.80 L34.35,365.20 L34.40,365.40 L34.51,365.80 L34.60,366.13 L34.68,366.40 L34.79,366.80 L34.85,367.00 L34.98,367.40 L35.04,367.60 L35.17,368.00 L35.24,368.20 L35.38,368.60 L35.45,368.80 L35.60,369.19 L35.68,369.40 L35.80,369.71 L35.92,370.00 L36.00,370.20 L36.17,370.60 L36.26,370.80 L36.40,371.12 L36.53,371.40 L36.62,371.60 L36.80,371.96 L36.92,372.20 L37.02,372.40 L37.20,372.74 L37.34,373.00 L37.45,373.20 L37.60,373.46 L37.80,373.80 L37.92,374.00 L38.05,374.20 L38.20,374.44 L38.40,374.75 L38.57,375.00 L38.71,375.20 L38.85,375.40 L39.00,375.60 L39.20,375.87 L39.40,376.12 L39.60,376.37 L39.79,376.60 L39.97,376.80 L40.14,377.00 L40.33,377.20 L40.52,377.40 L40.71,377.60 L40.92,377.80 L41.13,378.00 L41.35,378.20 L41.58,378.40 L41.80,378.59 L42.00,378.75 L42.20,378.90 L42.40,379.05 L42.61,379.20 L42.91,379.40 L43.20,379.58 L43.40,379.70 L43.60,379.82 L43.95,380.00 L44.20,380.12 L44.40,380.22 L44.80,380.38 L45.00,380.46 L45.40,380.60 L45.60,380.66 L46.00,380.77 L46.20,380.82 L46.60,380.90 L47.00,380.97 L47.26,381.00 L47.60,381.03 L48.00,381.06 L48.40,381.07 L48.80,381.07 L49.20,381.06 L49.60,381.06 L50.00,381.05 L50.40,381.05 L50.80,381.06 L51.20,381.10 L51.60,381.18 L51.80,381.24 L52.17,381.40 L52.40,381.54 L52.60,381.69 L52.80,381.87 L53.00,382.10 L53.20,382.40 L53.30,382.60 L53.40,382.84 L53.51,383.20 L53.60,383.60 L53.63,383.80 L53.68,384.20 L53.73,384.60 L53.78,385.00 L53.81,385.20 L53.89,385.60 L53.99,386.00 L54.05,386.20 L54.18,386.60 L54.26,386.80 L54.40,387.12 L54.54,387.40 L54.65,387.60 L54.80,387.86 L55.00,388.17 L55.16,388.40 L55.31,388.60 L55.47,388.80 L55.64,389.00 L55.82,389.20 L56.00,389.40 L56.20,389.60 L56.41,389.80 L56.63,390.00 L56.85,390.20 L57.09,390.40 L57.35,390.60 L57.60,390.79 L57.80,390.94 L58.00,391.08 L58.20,391.22 L58.47,391.40 L58.78,391.60 L59.00,391.73 L59.20,391.85 L59.45,392.00 L59.80,392.19 L60.00,392.30 L60.20,392.41 L60.58,392.60 L60.80,392.71 L61.00,392.81 L61.40,392.99 L61.60,393.08 L61.86,393.20 L62.20,393.34 L62.40,393.43 L62.80,393.59 L63.00,393.67 L63.35,393.80 L63.60,393.89 L63.89,394.00 L64.20,394.11 L64.47,394.20 L64.80,394.31 L65.07,394.40 L65.40,394.50 L65.72,394.60 L66.00,394.68 L66.40,394.80 L66.60,394.86 L67.00,394.96 L67.20,395.02 L67.60,395.12 L67.92,395.20 L68.20,395.27 L68.60,395.36 L68.80,395.41 L69.20,395.49 L69.60,395.58 L69.80,395.62 L70.20,395.70 L70.60,395.78 L70.80,395.81 L71.20,395.89 L71.60,395.96 L71.87,396.00 L72.20,396.05 L72.60,396.12 L73.00,396.17 L73.20,396.20 L73.60,396.26 L74.00,396.31 L74.40,396.36 L74.77,396.40 L75.00,396.43 L75.40,396.47 L75.80,396.51 L76.20,396.54 L76.60,396.58 L76.87,396.60 L77.20,396.63 L77.60,396.65 L78.00,396.68 L78.40,396.70 L78.80,396.72 L79.20,396.74 L79.60,396.76 L80.00,396.77 L80.40,396.78 L80.80,396.79 L81.20,396.80 L81.60,396.80 L82.00,396.80 L82.40,396.80 L82.80,396.80 L83.20,396.79 L83.60,396.78 L84.00,396.77 L84.40,396.76 L84.80,396.75 L85.20,396.73 L85.60,396.71 L86.00,396.69 L86.40,396.67 L86.80,396.65 L87.20,396.62 L87.50,396.60 L87.50,396.60"/><path d="M73.40,373.21 L73.00,373.31 L72.60,373.32 L72.20,373.24 L72.00,373.13 L71.80,372.98 L71.60,372.69 L71.49,372.40 L71.47,372.00 L71.60,371.77 L72.00,371.71 L72.29,371.80 L72.60,371.94 L72.80,372.06 L73.03,372.20 L73.28,372.40 L73.47,372.60 L73.60,372.88 L73.60,373.01 L73.40,373.21 L73.40,373.21"/><path d="M99.60,290.80 C99.78,289.13 100.20,286.23 101.10,284.70 C102.00,283.17 103.32,282.18 105.00,281.60 C106.68,281.02 109.40,281.13 111.20,281.20 C113.00,281.27 114.52,281.42 115.80,282.00 C117.08,282.58 118.13,283.35 118.90,284.70 C119.67,286.05 120.22,288.05 120.40,290.10 C120.58,292.15 120.25,294.57 120.00,297.00 C119.75,299.43 119.35,302.12 118.90,304.70 C118.45,307.28 117.95,310.57 117.30,312.50 C116.65,314.43 115.63,315.40 115.00,316.30 C114.37,317.20 114.13,317.90 113.50,317.90 C112.87,317.90 111.78,317.47 111.20,316.30 C110.62,315.13 110.52,312.05 110.00,310.90 C109.48,309.75 109.20,310.17 108.10,309.40 C107.00,308.63 104.57,307.72 103.40,306.30 C102.23,304.88 101.67,302.83 101.10,300.90 C100.53,298.97 100.25,296.38 100.00,294.70 C99.75,293.02 99.42,292.47 99.60,290.80Z"/><path d="M104.20,287.80 C104.40,286.65 104.77,285.35 105.80,284.70 C106.83,284.05 108.87,283.90 110.40,283.90 C111.93,283.90 113.85,283.93 115.00,284.70 C116.15,285.47 116.85,286.83 117.30,288.50 C117.75,290.17 117.82,292.50 117.70,294.70 C117.58,296.90 117.43,300.28 116.60,301.70 C115.77,303.12 114.12,302.82 112.70,303.20 C111.28,303.58 109.25,304.00 108.10,304.00 C106.95,304.00 106.32,304.37 105.80,303.20 C105.28,302.03 105.20,298.93 105.00,297.00 C104.80,295.07 104.73,293.13 104.60,291.60 C104.47,290.07 104.00,288.95 104.20,287.80Z"/><path d="M106.90,288.50 C107.08,287.80 107.97,287.12 108.80,286.60 C109.63,286.08 110.87,285.47 111.90,285.40 C112.93,285.33 114.28,285.55 115.00,286.20 C115.72,286.85 116.00,288.13 116.20,289.30 C116.40,290.47 116.47,292.03 116.20,293.20 C115.93,294.37 115.18,295.73 114.60,296.30 C114.02,296.87 113.53,297.00 112.70,296.60 C111.87,296.20 110.43,294.87 109.60,293.90 C108.77,292.93 108.15,291.70 107.70,290.80 C107.25,289.90 106.72,289.20 106.90,288.50Z"/></g>
<rect x="52.7" y="237.3" width="142.70" height="142.10" fill="none" stroke="#000" stroke-width="1.3"/>
<line x1="49.50" y1="379.40" x2="52.70" y2="379.40" stroke="#000" stroke-width="1.2"/>
<line x1="49.50" y1="368.71" x2="52.70" y2="368.71" stroke="#000" stroke-width="1.2"/>
<line x1="49.50" y1="362.45" x2="52.70" y2="362.45" stroke="#000" stroke-width="1.2"/>
<line x1="49.50" y1="358.01" x2="52.70" y2="358.01" stroke="#000" stroke-width="1.2"/>
<line x1="49.50" y1="354.57" x2="52.70" y2="354.57" stroke="#000" stroke-width="1.2"/>
<line x1="49.50" y1="351.76" x2="52.70" y2="351.76" stroke="#000" stroke-width="1.2"/>
<line x1="49.50" y1="349.38" x2="52.70" y2="349.38" stroke="#000" stroke-width="1.2"/>
<line x1="49.50" y1="347.32" x2="52.70" y2="347.32" stroke="#000" stroke-width="1.2"/>
<line x1="49.50" y1="345.50" x2="52.70" y2="345.50" stroke="#000" stroke-width="1.2"/>
<line x1="49.50" y1="343.88" x2="52.70" y2="343.88" stroke="#000" stroke-width="1.2"/>
<line x1="49.50" y1="333.18" x2="52.70" y2="333.18" stroke="#000" stroke-width="1.2"/>
<line x1="49.50" y1="326.93" x2="52.70" y2="326.93" stroke="#000" stroke-width="1.2"/>
<line x1="49.50" y1="322.49" x2="52.70" y2="322.49" stroke="#000" stroke-width="1.2"/>
<line x1="49.50" y1="319.04" x2="52.70" y2="319.04" stroke="#000" stroke-width="1.2"/>
<line x1="49.50" y1="316.23" x2="52.70" y2="316.23" stroke="#000" stroke-width="1.2"/>
<line x1="49.50" y1="313.85" x2="52.70" y2="313.85" stroke="#000" stroke-width="1.2"/>
<line x1="49.50" y1="311.79" x2="52.70" y2="311.79" stroke="#000" stroke-width="1.2"/>
<line x1="49.50" y1="309.98" x2="52.70" y2="309.98" stroke="#000" stroke-width="1.2"/>
<line x1="49.50" y1="308.35" x2="52.70" y2="308.35" stroke="#000" stroke-width="1.2"/>
<line x1="49.50" y1="297.66" x2="52.70" y2="297.66" stroke="#000" stroke-width="1.2"/>
<line x1="49.50" y1="291.40" x2="52.70" y2="291.40" stroke="#000" stroke-width="1.2"/>
<line x1="49.50" y1="286.96" x2="52.70" y2="286.96" stroke="#000" stroke-width="1.2"/>
<line x1="49.50" y1="283.52" x2="52.70" y2="283.52" stroke="#000" stroke-width="1.2"/>
<line x1="49.50" y1="280.71" x2="52.70" y2="280.71" stroke="#000" stroke-width="1.2"/>
<line x1="49.50" y1="278.33" x2="52.70" y2="278.33" stroke="#000" stroke-width="1.2"/>
<line x1="49.50" y1="276.27" x2="52.70" y2="276.27" stroke="#000" stroke-width="1.2"/>
<line x1="49.50" y1="274.45" x2="52.70" y2="274.45" stroke="#000" stroke-width="1.2"/>
<line x1="49.50" y1="272.82" x2="52.70" y2="272.82" stroke="#000" stroke-width="1.2"/>
<line x1="49.50" y1="262.13" x2="52.70" y2="262.13" stroke="#000" stroke-width="1.2"/>
<line x1="49.50" y1="255.88" x2="52.70" y2="255.88" stroke="#000" stroke-width="1.2"/>
<line x1="49.50" y1="251.44" x2="52.70" y2="251.44" stroke="#000" stroke-width="1.2"/>
<line x1="49.50" y1="247.99" x2="52.70" y2="247.99" stroke="#000" stroke-width="1.2"/>
<line x1="49.50" y1="245.18" x2="52.70" y2="245.18" stroke="#000" stroke-width="1.2"/>
<line x1="49.50" y1="242.80" x2="52.70" y2="242.80" stroke="#000" stroke-width="1.2"/>
<line x1="49.50" y1="240.74" x2="52.70" y2="240.74" stroke="#000" stroke-width="1.2"/>
<line x1="49.50" y1="238.93" x2="52.70" y2="238.93" stroke="#000" stroke-width="1.2"/>
<line x1="49.50" y1="237.30" x2="52.70" y2="237.30" stroke="#000" stroke-width="1.2"/>
<line x1="52.40" y1="237.30" x2="52.40" y2="379.40" stroke="#000" stroke-width="1.8"/>
<line x1="52.70" y1="379.40" x2="52.70" y2="382.80" stroke="#000" stroke-width="1.2"/>
<line x1="63.44" y1="379.40" x2="63.44" y2="382.80" stroke="#000" stroke-width="1.2"/>
<line x1="69.72" y1="379.40" x2="69.72" y2="382.80" stroke="#000" stroke-width="1.2"/>
<line x1="74.18" y1="379.40" x2="74.18" y2="382.80" stroke="#000" stroke-width="1.2"/>
<line x1="77.64" y1="379.40" x2="77.64" y2="382.80" stroke="#000" stroke-width="1.2"/>
<line x1="80.46" y1="379.40" x2="80.46" y2="382.80" stroke="#000" stroke-width="1.2"/>
<line x1="82.85" y1="379.40" x2="82.85" y2="382.80" stroke="#000" stroke-width="1.2"/>
<line x1="84.92" y1="379.40" x2="84.92" y2="382.80" stroke="#000" stroke-width="1.2"/>
<line x1="86.74" y1="379.40" x2="86.74" y2="382.80" stroke="#000" stroke-width="1.2"/>
<line x1="88.38" y1="379.40" x2="88.38" y2="382.80" stroke="#000" stroke-width="1.2"/>
<line x1="99.11" y1="379.40" x2="99.11" y2="382.80" stroke="#000" stroke-width="1.2"/>
<line x1="105.40" y1="379.40" x2="105.40" y2="382.80" stroke="#000" stroke-width="1.2"/>
<line x1="109.85" y1="379.40" x2="109.85" y2="382.80" stroke="#000" stroke-width="1.2"/>
<line x1="113.31" y1="379.40" x2="113.31" y2="382.80" stroke="#000" stroke-width="1.2"/>
<line x1="116.14" y1="379.40" x2="116.14" y2="382.80" stroke="#000" stroke-width="1.2"/>
<line x1="118.52" y1="379.40" x2="118.52" y2="382.80" stroke="#000" stroke-width="1.2"/>
<line x1="120.59" y1="379.40" x2="120.59" y2="382.80" stroke="#000" stroke-width="1.2"/>
<line x1="122.42" y1="379.40" x2="122.42" y2="382.80" stroke="#000" stroke-width="1.2"/>
<line x1="124.05" y1="379.40" x2="124.05" y2="382.80" stroke="#000" stroke-width="1.2"/>
<line x1="134.79" y1="379.40" x2="134.79" y2="382.80" stroke="#000" stroke-width="1.2"/>
<line x1="141.07" y1="379.40" x2="141.07" y2="382.80" stroke="#000" stroke-width="1.2"/>
<line x1="145.53" y1="379.40" x2="145.53" y2="382.80" stroke="#000" stroke-width="1.2"/>
<line x1="148.99" y1="379.40" x2="148.99" y2="382.80" stroke="#000" stroke-width="1.2"/>
<line x1="151.81" y1="379.40" x2="151.81" y2="382.80" stroke="#000" stroke-width="1.2"/>
<line x1="154.20" y1="379.40" x2="154.20" y2="382.80" stroke="#000" stroke-width="1.2"/>
<line x1="156.27" y1="379.40" x2="156.27" y2="382.80" stroke="#000" stroke-width="1.2"/>
<line x1="158.09" y1="379.40" x2="158.09" y2="382.80" stroke="#000" stroke-width="1.2"/>
<line x1="159.72" y1="379.40" x2="159.72" y2="382.80" stroke="#000" stroke-width="1.2"/>
<line x1="170.46" y1="379.40" x2="170.46" y2="382.80" stroke="#000" stroke-width="1.2"/>
<line x1="176.75" y1="379.40" x2="176.75" y2="382.80" stroke="#000" stroke-width="1.2"/>
<line x1="181.20" y1="379.40" x2="181.20" y2="382.80" stroke="#000" stroke-width="1.2"/>
<line x1="184.66" y1="379.40" x2="184.66" y2="382.80" stroke="#000" stroke-width="1.2"/>
<line x1="187.49" y1="379.40" x2="187.49" y2="382.80" stroke="#000" stroke-width="1.2"/>
<line x1="189.87" y1="379.40" x2="189.87" y2="382.80" stroke="#000" stroke-width="1.2"/>
<line x1="191.94" y1="379.40" x2="191.94" y2="382.80" stroke="#000" stroke-width="1.2"/>
<line x1="193.77" y1="379.40" x2="193.77" y2="382.80" stroke="#000" stroke-width="1.2"/>
<line x1="195.40" y1="379.40" x2="195.40" y2="382.80" stroke="#000" stroke-width="1.2"/>
<line x1="52.70" y1="379.70" x2="195.40" y2="379.70" stroke="#000" stroke-width="1.6"/>
<text x="47.50" y="384.40" font-size="6.8" text-anchor="end" font-weight="normal" fill="#1a1a1a" >10</text>
<text x="46.00" y="378.40" font-size="5.8" text-anchor="start" font-weight="normal" fill="#1a1a1a" >0</text>
<text x="47.50" y="348.88" font-size="6.8" text-anchor="end" font-weight="normal" fill="#1a1a1a" >10</text>
<text x="46.00" y="342.88" font-size="5.8" text-anchor="start" font-weight="normal" fill="#1a1a1a" >1</text>
<text x="47.50" y="313.35" font-size="6.8" text-anchor="end" font-weight="normal" fill="#1a1a1a" >10</text>
<text x="46.00" y="307.35" font-size="5.8" text-anchor="start" font-weight="normal" fill="#1a1a1a" >2</text>
<text x="47.50" y="277.82" font-size="6.8" text-anchor="end" font-weight="normal" fill="#1a1a1a" >10</text>
<text x="46.00" y="271.82" font-size="5.8" text-anchor="start" font-weight="normal" fill="#1a1a1a" >3</text>
<text x="47.50" y="242.30" font-size="6.8" text-anchor="end" font-weight="normal" fill="#1a1a1a" >10</text>
<text x="46.00" y="236.30" font-size="5.8" text-anchor="start" font-weight="normal" fill="#1a1a1a" >4</text>
<text x="55.20" y="392.40" font-size="6.8" text-anchor="end" font-weight="normal" fill="#1a1a1a" >10</text>
<text x="54.50" y="387.40" font-size="5.8" text-anchor="start" font-weight="normal" fill="#1a1a1a" >0</text>
<text x="90.88" y="392.40" font-size="6.8" text-anchor="end" font-weight="normal" fill="#1a1a1a" >10</text>
<text x="90.17" y="387.40" font-size="5.8" text-anchor="start" font-weight="normal" fill="#1a1a1a" >1</text>
<text x="126.55" y="392.40" font-size="6.8" text-anchor="end" font-weight="normal" fill="#1a1a1a" >10</text>
<text x="125.85" y="387.40" font-size="5.8" text-anchor="start" font-weight="normal" fill="#1a1a1a" >2</text>
<text x="162.22" y="392.40" font-size="6.8" text-anchor="end" font-weight="normal" fill="#1a1a1a" >10</text>
<text x="161.53" y="387.40" font-size="5.8" text-anchor="start" font-weight="normal" fill="#1a1a1a" >3</text>
<text x="197.90" y="392.40" font-size="6.8" text-anchor="end" font-weight="normal" fill="#1a1a1a" >10</text>
<text x="197.20" y="387.40" font-size="5.8" text-anchor="start" font-weight="normal" fill="#1a1a1a" >4</text>
<text x="112.20" y="400.00" font-size="9.0" text-anchor="start" font-weight="normal" fill="#1a1a1a" textLength="25.6" lengthAdjust="spacingAndGlyphs" >CD11c</text>
<text x="31.80" y="277.50" font-size="8.0" text-anchor="middle" font-weight="normal" fill="#1a1a1a" >C</text>
<text x="31.80" y="287.90" font-size="8.0" text-anchor="middle" font-weight="normal" fill="#1a1a1a" >D</text>
<text x="31.80" y="298.30" font-size="8.0" text-anchor="middle" font-weight="normal" fill="#1a1a1a" >4</text>
<text x="31.80" y="308.70" font-size="8.0" text-anchor="middle" font-weight="normal" fill="#1a1a1a" >5</text>
<text x="31.80" y="319.10" font-size="8.0" text-anchor="middle" font-weight="normal" fill="#1a1a1a" >R</text>
<text x="31.80" y="329.50" font-size="8.0" text-anchor="middle" font-weight="normal" fill="#1a1a1a" >A</text>
<rect x="88.9" y="269.9" width="44.9" height="46.9" fill="none" stroke="#000" stroke-width="1.6"/>
<rect x="108.0" y="332.2" width="29.2" height="39.6" fill="none" stroke="#000" stroke-width="1.6"/>
<text x="138.20" y="274.60" font-size="8.0" text-anchor="start" font-weight="normal" fill="#1a1a1a" >pDC</text>
<text x="141.60" y="338.20" font-size="8.0" text-anchor="start" font-weight="normal" fill="#1a1a1a" >cDC</text>
<rect x="300.0" y="240.3" width="206.20" height="151.50" fill="none" stroke="#000" stroke-width="1.3"/>
<line x1="297.00" y1="391.80" x2="300.00" y2="391.80" stroke="#666" stroke-width="1.0"/>
<text x="294.20" y="394.50" font-size="7.6" text-anchor="end" font-weight="normal" fill="#1a1a1a" >0</text>
<line x1="297.00" y1="361.50" x2="300.00" y2="361.50" stroke="#666" stroke-width="1.0"/>
<text x="294.20" y="364.20" font-size="7.6" text-anchor="end" font-weight="normal" fill="#1a1a1a" >5</text>
<line x1="297.00" y1="331.20" x2="300.00" y2="331.20" stroke="#666" stroke-width="1.0"/>
<text x="294.20" y="333.90" font-size="7.6" text-anchor="end" font-weight="normal" fill="#1a1a1a" >10</text>
<line x1="297.00" y1="300.90" x2="300.00" y2="300.90" stroke="#666" stroke-width="1.0"/>
<text x="294.20" y="303.60" font-size="7.6" text-anchor="end" font-weight="normal" fill="#1a1a1a" >15</text>
<line x1="297.00" y1="270.60" x2="300.00" y2="270.60" stroke="#666" stroke-width="1.0"/>
<text x="294.20" y="273.30" font-size="7.6" text-anchor="end" font-weight="normal" fill="#1a1a1a" >20</text>
<line x1="297.00" y1="240.30" x2="300.00" y2="240.30" stroke="#666" stroke-width="1.0"/>
<text x="294.20" y="243.00" font-size="7.6" text-anchor="end" font-weight="normal" fill="#1a1a1a" >25</text>
<rect x="314.20" y="263.93" width="20.00" height="127.87" fill="#000" stroke="#000" stroke-width="1.3"/>
<rect x="334.20" y="273.27" width="20.20" height="118.53" fill="#fff" stroke="#000" stroke-width="1.3"/>
<rect x="382.70" y="372.59" width="20.40" height="19.21" fill="#000" stroke="#000" stroke-width="1.3"/>
<rect x="403.10" y="377.86" width="18.90" height="13.94" fill="#fff" stroke="#000" stroke-width="1.3"/>
<rect x="454.20" y="390.89" width="16.30" height="0.91" fill="#000" stroke="#000" stroke-width="1.3"/>
<rect x="470.50" y="391.07" width="16.50" height="0.73" fill="#fff" stroke="#000" stroke-width="1.3"/>
<text x="333.00" y="404.80" font-size="6.9" text-anchor="middle" font-weight="normal" fill="#1a1a1a" >FL</text>
<text x="409.70" y="404.30" font-size="6.9" text-anchor="middle" font-weight="normal" fill="#1a1a1a" >M-CSF</text>
<text x="467.80" y="404.30" font-size="6.9" text-anchor="middle" font-weight="normal" fill="#1a1a1a" >Media</text>
<rect x="471.50" y="248.30" width="5.2" height="5.0" fill="#000" stroke="#000" stroke-width="1.2"/>
<text x="479.00" y="254.30" font-size="7.6" text-anchor="start" font-weight="normal" fill="#1a1a1a" textLength="14.6" lengthAdjust="spacingAndGlyphs" >pDC</text>
<rect x="471.50" y="259.60" width="5.2" height="5.0" fill="#fff" stroke="#000" stroke-width="1.2"/>
<text x="479.00" y="265.60" font-size="7.6" text-anchor="start" font-weight="normal" fill="#1a1a1a" textLength="14.6" lengthAdjust="spacingAndGlyphs" >cDC</text>
<text x="0.00" y="0.00" font-size="9.0" text-anchor="middle" font-weight="normal" fill="#1a1a1a" textLength="52.0" lengthAdjust="spacingAndGlyphs" transform="translate(281.0,311.7) rotate(-90)">x10  / mouse</text>
<text x="0.00" y="0.00" font-size="7.0" text-anchor="middle" font-weight="normal" fill="#1a1a1a" transform="translate(274.6,320.0) rotate(-90)">5</text>
<line x1="368.60" y1="391.80" x2="368.60" y2="394.40" stroke="#999" stroke-width="0.9"/>
<line x1="436.80" y1="391.80" x2="436.80" y2="394.40" stroke="#999" stroke-width="0.9"/>
<text x="0.90" y="425.50" font-size="14" text-anchor="start" font-weight="bold" fill="#000" >C</text>
<text x="257.00" y="449.50" font-size="9.6" text-anchor="start" font-weight="normal" fill="#333" textLength="23.0" lengthAdjust="spacingAndGlyphs" >FLKO</text>
<line x1="43.20" y1="622.40" x2="249.00" y2="622.40" stroke="#aaa" stroke-width="0.9"/>
<line x1="43.20" y1="467.40" x2="43.20" y2="622.40" stroke="#aaa" stroke-width="0.9"/>
<line x1="248.90" y1="467.40" x2="248.90" y2="622.60" stroke="#777" stroke-width="1.3"/>
<line x1="41.40" y1="469.00" x2="41.40" y2="625.00" stroke="#222" stroke-width="1.1"/>
<line x1="41.00" y1="624.50" x2="249.30" y2="624.50" stroke="#111" stroke-width="1.2"/>
<line x1="40.00" y1="622.00" x2="41.80" y2="622.00" stroke="#555" stroke-width="1.0"/>
<text x="40.40" y="624.90" font-size="8.2" text-anchor="end" font-weight="normal" fill="#1a1a1a" >0</text>
<line x1="40.00" y1="602.90" x2="41.80" y2="602.90" stroke="#555" stroke-width="1.0"/>
<text x="41.90" y="605.80" font-size="8.2" text-anchor="end" font-weight="normal" fill="#1a1a1a" >1000</text>
<line x1="40.00" y1="583.80" x2="41.80" y2="583.80" stroke="#555" stroke-width="1.0"/>
<text x="41.90" y="586.70" font-size="8.2" text-anchor="end" font-weight="normal" fill="#1a1a1a" >2000</text>
<line x1="40.00" y1="564.70" x2="41.80" y2="564.70" stroke="#555" stroke-width="1.0"/>
<text x="41.90" y="567.60" font-size="8.2" text-anchor="end" font-weight="normal" fill="#1a1a1a" >3000</text>
<line x1="40.00" y1="545.60" x2="41.80" y2="545.60" stroke="#555" stroke-width="1.0"/>
<text x="41.90" y="548.50" font-size="8.2" text-anchor="end" font-weight="normal" fill="#1a1a1a" >4000</text>
<line x1="40.00" y1="526.50" x2="41.80" y2="526.50" stroke="#555" stroke-width="1.0"/>
<text x="41.90" y="529.40" font-size="8.2" text-anchor="end" font-weight="normal" fill="#1a1a1a" >5000</text>
<line x1="40.00" y1="507.40" x2="41.80" y2="507.40" stroke="#555" stroke-width="1.0"/>
<text x="41.90" y="510.30" font-size="8.2" text-anchor="end" font-weight="normal" fill="#1a1a1a" >6000</text>
<line x1="40.00" y1="488.30" x2="41.80" y2="488.30" stroke="#555" stroke-width="1.0"/>
<text x="41.90" y="491.20" font-size="8.2" text-anchor="end" font-weight="normal" fill="#1a1a1a" >7000</text>
<line x1="40.00" y1="469.20" x2="41.80" y2="469.20" stroke="#555" stroke-width="1.0"/>
<text x="41.90" y="472.10" font-size="8.2" text-anchor="end" font-weight="normal" fill="#1a1a1a" >8000</text>
<line x1="43.60" y1="622.20" x2="43.60" y2="624.60" stroke="#888" stroke-width="0.9"/>
<line x1="72.50" y1="622.20" x2="72.50" y2="624.60" stroke="#888" stroke-width="0.9"/>
<line x1="101.40" y1="622.20" x2="101.40" y2="624.60" stroke="#888" stroke-width="0.9"/>
<line x1="130.30" y1="622.20" x2="130.30" y2="624.60" stroke="#888" stroke-width="0.9"/>
<line x1="159.20" y1="622.20" x2="159.20" y2="624.60" stroke="#888" stroke-width="0.9"/>
<line x1="188.10" y1="622.20" x2="188.10" y2="624.60" stroke="#888" stroke-width="0.9"/>
<line x1="217.00" y1="622.20" x2="217.00" y2="624.60" stroke="#888" stroke-width="0.9"/>
<line x1="245.90" y1="622.20" x2="245.90" y2="624.60" stroke="#888" stroke-width="0.9"/>
<text x="58.10" y="634.00" font-size="7.8" text-anchor="middle" font-weight="normal" fill="#1a1a1a" >0</text>
<text x="87.00" y="634.00" font-size="7.8" text-anchor="middle" font-weight="normal" fill="#1a1a1a" >1</text>
<text x="115.90" y="634.00" font-size="7.8" text-anchor="middle" font-weight="normal" fill="#1a1a1a" >2</text>
<text x="144.80" y="634.00" font-size="7.8" text-anchor="middle" font-weight="normal" fill="#1a1a1a" >3</text>
<text x="173.70" y="634.00" font-size="7.8" text-anchor="middle" font-weight="normal" fill="#1a1a1a" >4</text>
<text x="202.60" y="634.00" font-size="7.8" text-anchor="middle" font-weight="normal" fill="#1a1a1a" >5</text>
<text x="231.50" y="634.00" font-size="7.8" text-anchor="middle" font-weight="normal" fill="#1a1a1a" >6</text>
<text x="147.00" y="645.00" font-size="7.9" text-anchor="middle" font-weight="normal" fill="#1a1a1a" >Day of culture</text>
<text x="0.00" y="0.00" font-size="8.2" text-anchor="middle" font-weight="normal" fill="#1a1a1a" textLength="40.5" lengthAdjust="spacingAndGlyphs" transform="translate(17.4,533.5) rotate(-90)">IFN-&#945; IU/mL</text>
<polyline points="58.10,620.85 87.00,620.85 115.90,620.85 144.80,620.85 173.70,620.85 202.60,620.85 231.50,620.85" fill="none" stroke="#000" stroke-width="1.7" stroke-linejoin="round"/>
<polyline points="58.10,620.09 87.00,621.24 115.90,621.04 144.80,618.18 173.70,603.45 202.60,575.07 231.50,608.25" fill="none" stroke="#000" stroke-width="1.8" stroke-linejoin="round"/>
<polyline points="58.10,620.09 87.00,621.04 115.90,621.04 144.80,619.13 173.70,605.96 202.60,551.01 231.50,476.84" fill="none" stroke="#000" stroke-width="1.8" stroke-linejoin="round"/>
<rect x="55.90" y="618.65" width="4.4" height="4.4" fill="#fff" stroke="#000" stroke-width="1.5"/>
<rect x="84.80" y="618.65" width="4.4" height="4.4" fill="#fff" stroke="#000" stroke-width="1.5"/>
<rect x="113.70" y="618.65" width="4.4" height="4.4" fill="#fff" stroke="#000" stroke-width="1.5"/>
<rect x="142.60" y="618.65" width="4.4" height="4.4" fill="#fff" stroke="#000" stroke-width="1.5"/>
<rect x="171.50" y="618.65" width="4.4" height="4.4" fill="#fff" stroke="#000" stroke-width="1.5"/>
<rect x="200.40" y="618.65" width="4.4" height="4.4" fill="#fff" stroke="#000" stroke-width="1.5"/>
<rect x="229.30" y="618.65" width="4.4" height="4.4" fill="#fff" stroke="#000" stroke-width="1.5"/>
<polyline points="58.10,621.24 87.00,621.43 115.90,621.43 144.80,620.85 173.70,620.47 202.60,620.85 231.50,620.85" fill="none" stroke="#333" stroke-width="1.4" stroke-linejoin="round"/>
<circle cx="58.10" cy="620.09" r="2.0" fill="#fff" stroke="#000" stroke-width="1.25"/>
<circle cx="87.00" cy="621.24" r="2.0" fill="#fff" stroke="#000" stroke-width="1.25"/>
<circle cx="115.90" cy="621.04" r="2.0" fill="#fff" stroke="#000" stroke-width="1.25"/>
<circle cx="144.80" cy="618.18" r="2.0" fill="#fff" stroke="#000" stroke-width="1.25"/>
<circle cx="173.70" cy="603.45" r="2.0" fill="#fff" stroke="#000" stroke-width="1.25"/>
<circle cx="202.60" cy="575.07" r="2.0" fill="#fff" stroke="#000" stroke-width="1.25"/>
<circle cx="231.50" cy="608.25" r="2.0" fill="#fff" stroke="#000" stroke-width="1.25"/>
<polygon points="54.90,623.29 61.30,623.29 58.10,616.89" fill="#000"/>
<polygon points="83.80,624.25 90.20,624.25 87.00,617.84" fill="#000"/>
<polygon points="112.70,624.25 119.10,624.25 115.90,617.84" fill="#000"/>
<polygon points="141.60,622.34 148.00,622.34 144.80,615.93" fill="#000"/>
<polygon points="170.50,609.16 176.90,609.16 173.70,602.76" fill="#000"/>
<polygon points="199.40,554.21 205.80,554.21 202.60,547.81" fill="#000"/>
<polygon points="228.30,480.04 234.70,480.04 231.50,473.64" fill="#000"/>
<line x1="59.90" y1="484.50" x2="77.10" y2="484.50" stroke="#000" stroke-width="1.5"/>
<polygon points="65.60,487.00 71.00,487.00 68.30,482.00" fill="#000"/>
<text x="83.60" y="486.70" font-size="8.2" text-anchor="start" font-weight="normal" fill="#1a1a1a" textLength="48.0" lengthAdjust="spacingAndGlyphs" >FL CpG 2216</text>
<line x1="59.90" y1="495.00" x2="77.10" y2="495.00" stroke="#000" stroke-width="1.5"/>
<circle cx="67.90" cy="495.00" r="1.5" fill="#fff" stroke="#000" stroke-width="1.35"/>
<text x="83.60" y="497.20" font-size="8.2" text-anchor="start" font-weight="normal" fill="#1a1a1a" textLength="61.6" lengthAdjust="spacingAndGlyphs" >MCSF CpG 2216</text>
<line x1="59.90" y1="504.80" x2="77.10" y2="504.80" stroke="#000" stroke-width="1.5"/>
<rect x="66.40" y="503.30" width="3.0" height="3.0" fill="#fff" stroke="#000" stroke-width="1.35"/>
<text x="83.60" y="507.00" font-size="8.2" text-anchor="start" font-weight="normal" fill="#1a1a1a" textLength="58.2" lengthAdjust="spacingAndGlyphs" >FL Unstimulated</text>
<line x1="59.90" y1="515.20" x2="77.10" y2="515.20" stroke="#000" stroke-width="1.5"/>
<ellipse cx="68.0" cy="514.90" rx="3.0" ry="1.0" fill="#000"/>
<text x="83.60" y="517.40" font-size="8.2" text-anchor="start" font-weight="normal" fill="#1a1a1a" textLength="72.89999999999999" lengthAdjust="spacingAndGlyphs" >MCSF Unstimulated</text>
<rect x="300.8" y="490.5" width="218.20" height="131.50" fill="none" stroke="#000" stroke-width="1.3"/>
<line x1="297.80" y1="622.00" x2="300.80" y2="622.00" stroke="#666" stroke-width="1.0"/>
<text x="296.20" y="624.70" font-size="7.6" text-anchor="end" font-weight="normal" fill="#1a1a1a" >0</text>
<line x1="297.80" y1="600.08" x2="300.80" y2="600.08" stroke="#666" stroke-width="1.0"/>
<text x="296.20" y="602.78" font-size="7.6" text-anchor="end" font-weight="normal" fill="#1a1a1a" >0.5</text>
<line x1="297.80" y1="578.17" x2="300.80" y2="578.17" stroke="#666" stroke-width="1.0"/>
<text x="296.20" y="580.87" font-size="7.6" text-anchor="end" font-weight="normal" fill="#1a1a1a" >1.0</text>
<line x1="297.80" y1="556.25" x2="300.80" y2="556.25" stroke="#666" stroke-width="1.0"/>
<text x="296.20" y="558.95" font-size="7.6" text-anchor="end" font-weight="normal" fill="#1a1a1a" >1.5</text>
<line x1="297.80" y1="534.33" x2="300.80" y2="534.33" stroke="#666" stroke-width="1.0"/>
<text x="296.20" y="537.03" font-size="7.6" text-anchor="end" font-weight="normal" fill="#1a1a1a" >2.0</text>
<line x1="297.80" y1="512.42" x2="300.80" y2="512.42" stroke="#666" stroke-width="1.0"/>
<text x="296.20" y="515.12" font-size="7.6" text-anchor="end" font-weight="normal" fill="#1a1a1a" >2.5</text>
<line x1="297.80" y1="490.50" x2="300.80" y2="490.50" stroke="#666" stroke-width="1.0"/>
<text x="296.20" y="493.20" font-size="7.6" text-anchor="end" font-weight="normal" fill="#1a1a1a" >3.0</text>
<rect x="317.00" y="532.14" width="25.30" height="89.86" fill="#000" stroke="#000" stroke-width="1.3"/>
<rect x="342.30" y="502.33" width="23.60" height="119.67" fill="#fff" stroke="#000" stroke-width="1.3"/>
<rect x="400.00" y="601.40" width="24.30" height="20.60" fill="#000" stroke="#000" stroke-width="1.3"/>
<rect x="424.30" y="596.36" width="23.70" height="25.64" fill="#fff" stroke="#000" stroke-width="1.3"/>
<rect x="482.60" y="621.12" width="14.90" height="0.88" fill="#000" stroke="#000" stroke-width="1.3"/>
<rect x="497.50" y="621.12" width="15.30" height="0.88" fill="#fff" stroke="#000" stroke-width="1.3"/>
<text x="342.20" y="634.60" font-size="6.9" text-anchor="middle" font-weight="normal" fill="#1a1a1a" >FL</text>
<text x="424.60" y="634.60" font-size="6.9" text-anchor="middle" font-weight="normal" fill="#1a1a1a" >M-CSF</text>
<text x="497.00" y="634.60" font-size="6.9" text-anchor="middle" font-weight="normal" fill="#1a1a1a" >Media</text>
<rect x="490.60" y="498.60" width="5.2" height="5.0" fill="#000" stroke="#000" stroke-width="1.2"/>
<text x="498.10" y="504.60" font-size="7.6" text-anchor="start" font-weight="normal" fill="#1a1a1a" textLength="14.6" lengthAdjust="spacingAndGlyphs" >pDC</text>
<rect x="490.60" y="510.00" width="5.2" height="5.0" fill="#fff" stroke="#000" stroke-width="1.2"/>
<text x="498.10" y="516.00" font-size="7.6" text-anchor="start" font-weight="normal" fill="#1a1a1a" textLength="14.6" lengthAdjust="spacingAndGlyphs" >cDC</text>
<text x="0.00" y="0.00" font-size="9.0" text-anchor="middle" font-weight="normal" fill="#1a1a1a" textLength="52.0" lengthAdjust="spacingAndGlyphs" transform="translate(281.0,554.0) rotate(-90)">x10  / mouse</text>
<text x="0.00" y="0.00" font-size="7.0" text-anchor="middle" font-weight="normal" fill="#1a1a1a" transform="translate(274.0,563.5) rotate(-90)">5</text>
</svg>
</body></html>
